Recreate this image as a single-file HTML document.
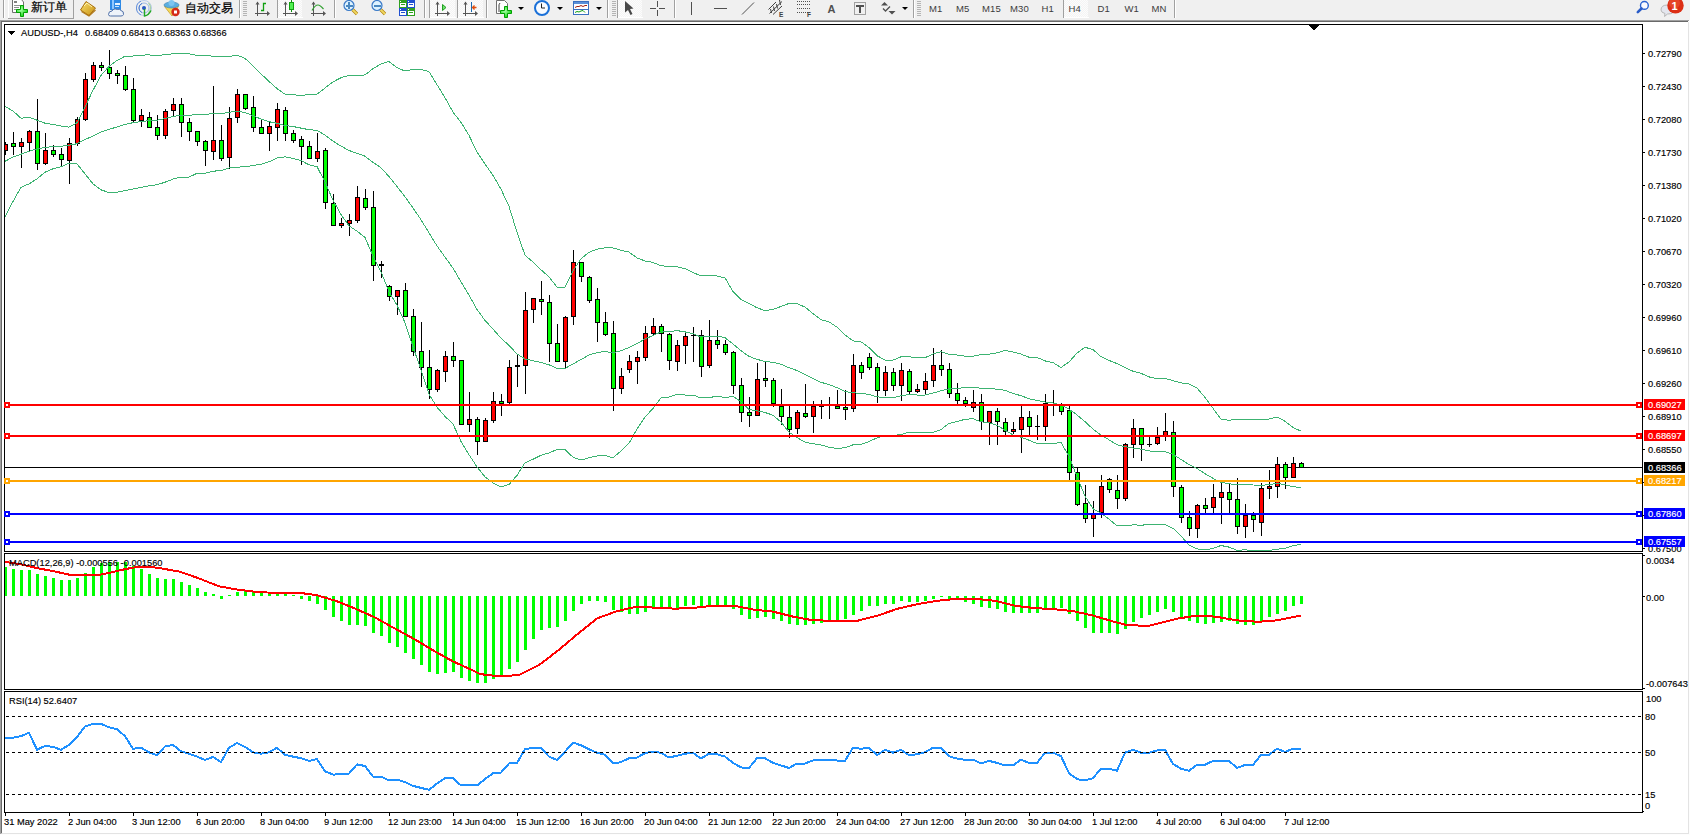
<!DOCTYPE html>
<html><head><meta charset="utf-8">
<style>
html,body{margin:0;padding:0;width:1690px;height:835px;overflow:hidden;background:#F0F0F0;}
#s{position:absolute;left:0;top:0;}
</style></head><body>
<svg id="s" width="1690" height="835" viewBox="0 0 1690 835" font-family="Liberation Sans, sans-serif">
<g>
<defs><pattern id="chk" width="2" height="2" patternUnits="userSpaceOnUse"><rect width="2" height="2" fill="#F4F4F4"/><rect width="1" height="1" fill="#FCFCFC"/><rect x="1" y="1" width="1" height="1" fill="#FCFCFC"/></pattern><linearGradient id="gold" x1="0" y1="0" x2="1" y2="1"><stop offset="0" stop-color="#F8E070"/><stop offset="1" stop-color="#C89010"/></linearGradient><radialGradient id="gplus" cx="0.4" cy="0.4" r="0.7"><stop offset="0" stop-color="#A8FFA8"/><stop offset="1" stop-color="#00D000"/></radialGradient></defs><rect x="0" y="0" width="1690" height="19" fill="#F0F0F0"/><rect x="3" y="0" width="1" height="18" fill="#A0A0A0"/><rect x="4" y="0" width="1" height="18" fill="#FFFFFF"/><rect x="8" y="0" width="1" height="18" fill="#FFFFFF"/><rect x="8" y="18" width="66" height="1" fill="#A0A0A0"/><rect x="73" y="0" width="1" height="19" fill="#A0A0A0"/><path d="M12.5 -1 V12.5 H23.5 V2 L21 -1" fill="#fff" stroke="#707070" stroke-width="1"/><rect x="14" y="1" width="3" height="2" fill="#808080"/><rect x="14" y="5" width="7" height="1" fill="#909090"/><rect x="14" y="7" width="5" height="1" fill="#909090"/><rect x="14" y="9" width="4" height="1" fill="#909090"/><path d="M20.5 5.5 H23.5 V9.5 H27.5 V12.5 H23.5 V16.5 H20.5 V12.5 H16.5 V9.5 H20.5 Z" fill="url(#gplus)" stroke="#00A000" stroke-width="1"/><text x="31" y="11" font-size="12" fill="#000" stroke="#000" stroke-width="0.2">新订单</text><path d="M80.5 10 L86 1.5 L95.5 8 L89 15.5 Z" fill="url(#gold)" stroke="#A87010" stroke-width="1"/><path d="M81.5 11.5 L89 16 L95.5 10" fill="none" stroke="#B07818" stroke-width="1.2"/><path d="M84 6 L87 3 L92 7" fill="none" stroke="#FFF4B0" stroke-width="1"/><rect x="110" y="0" width="11" height="10" fill="#2E8AE6"/><rect x="112" y="0" width="2" height="9" fill="#90C8FF"/><rect x="115" y="3" width="5" height="2" fill="#E8F4FF"/><rect x="115" y="6" width="4" height="1" fill="#CDE6FF"/><path d="M108.5 14.5 Q108.5 11 112 11 Q113.5 8 117.5 9.5 Q119.5 8.5 121 10.5 Q124 11 123.5 14.5 Q123 16 121 16 H110.5 Q108.5 16 108.5 14.5 Z" fill="#EEF3FA" stroke="#5070A8" stroke-width="1"/><circle cx="144" cy="8" r="7.5" fill="none" stroke="#B8CCEA" stroke-width="1"/><path d="M141 14.9 A7.5 7.5 0 0 1 141 1.1" fill="none" stroke="#6A94DC" stroke-width="1"/><circle cx="144" cy="8" r="5" fill="none" stroke="#9AB8E4" stroke-width="1"/><path d="M142 12.6 A5 5 0 0 1 142 3.4" fill="none" stroke="#4A7AD0" stroke-width="1"/><path d="M148.5 3 A7 7 0 0 1 148.5 13" fill="none" stroke="#A8D0A8" stroke-width="1.2"/><circle cx="144" cy="8" r="2" fill="#2858C0"/><path d="M144.5 9 V16 Q148.5 15.5 151 10.5" fill="none" stroke="#20A820" stroke-width="1.4"/><path d="M164.5 6.5 L178.5 6.5 L172 16 Z" fill="#F2D85A" stroke="#C8A030" stroke-width="0.8"/><ellipse cx="171.5" cy="5" rx="7.5" ry="3" fill="#5AAEE0" stroke="#3A80B0" stroke-width="0.6"/><ellipse cx="171.5" cy="3" rx="3" ry="3" fill="#7CC4F0"/><circle cx="175.5" cy="12" r="4.2" fill="#D42A18"/><rect x="174" y="10.5" width="3" height="3" fill="#FFFFFF"/><text x="185" y="12" font-size="12" fill="#000" stroke="#000" stroke-width="0.2">自动交易</text><rect x="239" y="0" width="1" height="18" fill="#A0A0A0"/><rect x="240" y="0" width="1" height="18" fill="#FFFFFF"/><rect x="243" y="1" width="4" height="1" fill="#B4B4B4"/><rect x="243" y="3" width="4" height="1" fill="#B4B4B4"/><rect x="243" y="5" width="4" height="1" fill="#B4B4B4"/><rect x="243" y="7" width="4" height="1" fill="#B4B4B4"/><rect x="243" y="9" width="4" height="1" fill="#B4B4B4"/><rect x="243" y="11" width="4" height="1" fill="#B4B4B4"/><rect x="243" y="13" width="4" height="1" fill="#B4B4B4"/><rect x="243" y="15" width="4" height="1" fill="#B4B4B4"/><rect x="257" y="2" width="1" height="14" fill="#555555"/><rect x="255" y="13" width="13" height="1" fill="#555555"/><path d="M255.5 4.5 L257.5 1.5 L259.5 4.5 Z M267 11 L270 13.5 L267 16 Z" fill="#555555"/><path d="M261 10.5 H263.5 V3.5 H266" stroke="#10A010" stroke-width="1.3" fill="none"/><rect x="277" y="0" width="1" height="18" fill="#A0A0A0"/><rect x="278" y="0" width="1" height="18" fill="#FFFFFF"/><rect x="278" y="0" width="24" height="18" fill="url(#chk)"/><rect x="278" y="17" width="25" height="1" fill="#FFFFFF"/><rect x="285" y="2" width="1" height="14" fill="#555555"/><rect x="283" y="13" width="13" height="1" fill="#555555"/><path d="M283.5 4.5 L285.5 1.5 L287.5 4.5 Z M295 11 L298 13.5 L295 16 Z" fill="#555555"/><rect x="291" y="0" width="1" height="12" fill="#109010"/><rect x="289.5" y="2.5" width="4" height="7" fill="#50F050" stroke="#10A010"/><rect x="313" y="2" width="1" height="14" fill="#555555"/><rect x="311" y="13" width="13" height="1" fill="#555555"/><path d="M311.5 4.5 L313.5 1.5 L315.5 4.5 Z M323 11 L326 13.5 L323 16 Z" fill="#555555"/><path d="M312 10.5 Q315 5 318 5 Q320 5 323.5 9" stroke="#30A030" stroke-width="1.2" fill="none"/><rect x="334" y="0" width="1" height="18" fill="#A0A0A0"/><rect x="335" y="0" width="1" height="18" fill="#FFFFFF"/><line x1="352.5" y1="9.5" x2="357" y2="14" stroke="#B08010" stroke-width="3.2"/><line x1="352.5" y1="9.5" x2="357" y2="14" stroke="#F0D860" stroke-width="1.8"/><circle cx="349" cy="5.5" r="5" fill="#DDF2FF" stroke="#3A7AC8" stroke-width="1.2"/><rect x="346" y="5" width="7" height="2" fill="#4A88C0"/><rect x="348" y="2" width="2" height="7" fill="#4A88C0"/><line x1="380.5" y1="9.5" x2="385" y2="14" stroke="#B08010" stroke-width="3.2"/><line x1="380.5" y1="9.5" x2="385" y2="14" stroke="#F0D860" stroke-width="1.8"/><circle cx="377" cy="5.5" r="5" fill="#DDF2FF" stroke="#3A7AC8" stroke-width="1.2"/><rect x="374" y="5" width="7" height="2" fill="#4A88C0"/><rect x="399" y="0" width="8" height="8" fill="#30A020"/><rect x="400" y="3" width="6" height="4" fill="#FFFFFF"/><rect x="401" y="4" width="4" height="1" fill="#30A020"/><rect x="400" y="1" width="1" height="1" fill="#FFFFFF"/><rect x="407" y="0" width="8" height="8" fill="#2050D0"/><rect x="408" y="3" width="6" height="4" fill="#FFFFFF"/><rect x="409" y="4" width="4" height="1" fill="#2050D0"/><rect x="408" y="1" width="1" height="1" fill="#FFFFFF"/><rect x="399" y="8" width="8" height="8" fill="#2050D0"/><rect x="400" y="11" width="6" height="4" fill="#FFFFFF"/><rect x="401" y="12" width="4" height="1" fill="#2050D0"/><rect x="400" y="9" width="1" height="1" fill="#FFFFFF"/><rect x="407" y="8" width="8" height="8" fill="#30A020"/><rect x="408" y="11" width="6" height="4" fill="#FFFFFF"/><rect x="409" y="12" width="4" height="1" fill="#30A020"/><rect x="408" y="9" width="1" height="1" fill="#FFFFFF"/><rect x="424" y="0" width="1" height="18" fill="#A0A0A0"/><rect x="425" y="0" width="1" height="18" fill="#FFFFFF"/><rect x="429" y="0" width="1" height="18" fill="#A0A0A0"/><rect x="430" y="0" width="1" height="18" fill="#FFFFFF"/><rect x="430" y="0" width="25" height="18" fill="url(#chk)"/><rect x="430" y="17" width="26" height="1" fill="#FFFFFF"/><rect x="437" y="2" width="1" height="14" fill="#555555"/><rect x="435" y="13" width="13" height="1" fill="#555555"/><path d="M435.5 4.5 L437.5 1.5 L439.5 4.5 Z M447 11 L450 13.5 L447 16 Z" fill="#555555"/><path d="M442.5 4.5 L446 7.5 L442.5 10.5 Z" fill="#70E070" stroke="#20A020"/><rect x="457" y="0" width="1" height="18" fill="#A0A0A0"/><rect x="458" y="0" width="1" height="18" fill="#FFFFFF"/><rect x="458" y="0" width="25" height="18" fill="url(#chk)"/><rect x="458" y="17" width="26" height="1" fill="#FFFFFF"/><rect x="465" y="2" width="1" height="14" fill="#555555"/><rect x="463" y="13" width="13" height="1" fill="#555555"/><path d="M463.5 4.5 L465.5 1.5 L467.5 4.5 Z M475 11 L478 13.5 L475 16 Z" fill="#555555"/><rect x="471" y="2" width="1" height="10" fill="#1A6AB0"/><path d="M476.5 7.5 H473 M474.5 5.5 L472.5 7.5 L474.5 9.5" stroke="#E05010" stroke-width="1.3" fill="none"/><rect x="486" y="0" width="1" height="18" fill="#A0A0A0"/><rect x="487" y="0" width="1" height="18" fill="#FFFFFF"/><path d="M496.5 0.5 H504.5 L507.5 3.5 V13.5 H496.5 Z" fill="#fff" stroke="#707070"/><path d="M500 3 Q498.5 4 499 8 L499 12" fill="none" stroke="#404040"/><path d="M504.5 6.5 H507.5 V10.5 H511.5 V13.5 H507.5 V17.5 H504.5 V13.5 H500.5 V10.5 H504.5 Z" fill="url(#gplus)" stroke="#00A000"/><path d="M518 7 H524 L521 10 Z" fill="#000"/><circle cx="542" cy="8" r="7" fill="#F8FBFF" stroke="#1A70D8" stroke-width="2"/><path d="M541.5 3.5 V8 H545" stroke="#222" stroke-width="1" fill="none"/><path d="M557 7 H563 L560 10 Z" fill="#000"/><rect x="573.5" y="1.5" width="15" height="13" fill="#FFFFFF" stroke="#3A70C0"/><rect x="574" y="2" width="14" height="2" fill="#5A90D8"/><rect x="574" y="9" width="14" height="1" fill="#3A70C0"/><path d="M575 7.5 L577 6.5 L579 6.5 L581 5.5 L583 6.5 L585 5.5 L587 5.5" stroke="#A02010" fill="none"/><path d="M575 12.5 L577 11.5 L579 12 L581 11 L583 10.5 L585 12.5" stroke="#10A010" fill="none"/><path d="M596 7 H602 L599 10 Z" fill="#000"/><rect x="607" y="0" width="1" height="18" fill="#A0A0A0"/><rect x="608" y="0" width="1" height="18" fill="#FFFFFF"/><rect x="612" y="1" width="4" height="1" fill="#B4B4B4"/><rect x="612" y="3" width="4" height="1" fill="#B4B4B4"/><rect x="612" y="5" width="4" height="1" fill="#B4B4B4"/><rect x="612" y="7" width="4" height="1" fill="#B4B4B4"/><rect x="612" y="9" width="4" height="1" fill="#B4B4B4"/><rect x="612" y="11" width="4" height="1" fill="#B4B4B4"/><rect x="612" y="13" width="4" height="1" fill="#B4B4B4"/><rect x="612" y="15" width="4" height="1" fill="#B4B4B4"/><rect x="617" y="0" width="1" height="18" fill="#A0A0A0"/><rect x="618" y="0" width="1" height="18" fill="#FFFFFF"/><rect x="618" y="0" width="24" height="18" fill="url(#chk)"/><rect x="618" y="17" width="25" height="1" fill="#FFFFFF"/><path d="M625 1 L625 12.5 L628 10 L630.5 15 L632.5 14 L630 9 L633.5 8.5 Z" fill="#484848"/><rect x="657" y="1" width="1" height="6" fill="#505050"/><rect x="657" y="10" width="1" height="6" fill="#505050"/><rect x="650" y="8" width="6" height="1" fill="#505050"/><rect x="659" y="8" width="6" height="1" fill="#505050"/><rect x="674" y="0" width="1" height="18" fill="#A0A0A0"/><rect x="675" y="0" width="1" height="18" fill="#FFFFFF"/><rect x="691" y="2" width="1" height="13" fill="#505050"/><rect x="714" y="8" width="13" height="1" fill="#505050"/><line x1="742" y1="14.5" x2="754" y2="2.5" stroke="#505050" stroke-width="1"/><path d="M768.5 9.5 L776 2 M769.5 13.5 L782 1.5 M773 14.5 L782 6 M770.5 9 L771.5 13 M773.5 6.5 L774.5 11 M776.5 4 L777.5 8.5 M779.5 0 L780.5 5" stroke="#404040" fill="none"/><text transform="translate(779 16.5) scale(1.0 1)" font-size="6.5" fill="#404040" letter-spacing="0" font-weight="bold">E</text><line x1="797" y1="1.5" x2="810" y2="1.5" stroke="#505050" stroke-dasharray="1 1"/><line x1="797" y1="4.5" x2="810" y2="4.5" stroke="#505050" stroke-dasharray="1 1"/><line x1="797" y1="8.5" x2="810" y2="8.5" stroke="#505050" stroke-dasharray="1 1"/><line x1="797" y1="12.5" x2="810" y2="12.5" stroke="#505050" stroke-dasharray="1 1"/><text transform="translate(807 16.5) scale(1.0 1)" font-size="6.5" fill="#404040" letter-spacing="0" font-weight="bold">F</text><text transform="translate(827.5 13) scale(1.0 1)" font-size="11" fill="#505050" letter-spacing="0" font-weight="bold">A</text><rect x="854.5" y="2.5" width="11" height="12" fill="none" stroke="#505050" stroke-dasharray="1 1"/><rect x="856" y="5" width="8" height="2" fill="#505050"/><rect x="859" y="5" width="2" height="8" fill="#505050"/><path d="M881 5.5 L884.5 2 L888 5.5 Z M888.5 11 L895.5 11 L892 14.5 Z" fill="#505050"/><path d="M883 8.5 L885.5 11 L890 6.5" stroke="#505050" stroke-width="1.3" fill="none"/><path d="M902 7 H908 L905 10 Z" fill="#000"/><rect x="913" y="0" width="1" height="18" fill="#A0A0A0"/><rect x="914" y="0" width="1" height="18" fill="#FFFFFF"/><rect x="917" y="1" width="4" height="1" fill="#B4B4B4"/><rect x="917" y="3" width="4" height="1" fill="#B4B4B4"/><rect x="917" y="5" width="4" height="1" fill="#B4B4B4"/><rect x="917" y="7" width="4" height="1" fill="#B4B4B4"/><rect x="917" y="9" width="4" height="1" fill="#B4B4B4"/><rect x="917" y="11" width="4" height="1" fill="#B4B4B4"/><rect x="917" y="13" width="4" height="1" fill="#B4B4B4"/><rect x="917" y="15" width="4" height="1" fill="#B4B4B4"/><text transform="translate(929 12) scale(1.0 1)" font-size="9.5" fill="#3C3C3C" letter-spacing="0.1" font-weight="normal">M1</text><text transform="translate(956 12) scale(1.0 1)" font-size="9.5" fill="#3C3C3C" letter-spacing="0.1" font-weight="normal">M5</text><text transform="translate(982 12) scale(1.0 1)" font-size="9.5" fill="#3C3C3C" letter-spacing="0.1" font-weight="normal">M15</text><text transform="translate(1010 12) scale(1.0 1)" font-size="9.5" fill="#3C3C3C" letter-spacing="0.1" font-weight="normal">M30</text><text transform="translate(1041.5 12) scale(1.0 1)" font-size="9.5" fill="#3C3C3C" letter-spacing="0.1" font-weight="normal">H1</text><rect x="1063" y="0" width="1" height="18" fill="#A0A0A0"/><rect x="1064" y="0" width="1" height="18" fill="#FFFFFF"/><rect x="1064" y="0" width="24" height="18" fill="url(#chk)"/><rect x="1064" y="17" width="25" height="1" fill="#FFFFFF"/><text transform="translate(1068.5 12) scale(1.0 1)" font-size="9.5" fill="#3C3C3C" letter-spacing="0.1" font-weight="normal">H4</text><text transform="translate(1097.5 12) scale(1.0 1)" font-size="9.5" fill="#3C3C3C" letter-spacing="0.1" font-weight="normal">D1</text><text transform="translate(1124.5 12) scale(1.0 1)" font-size="9.5" fill="#3C3C3C" letter-spacing="0.1" font-weight="normal">W1</text><text transform="translate(1151.5 12) scale(1.0 1)" font-size="9.5" fill="#3C3C3C" letter-spacing="0.1" font-weight="normal">MN</text><rect x="1174" y="0" width="1" height="18" fill="#A0A0A0"/><rect x="1175" y="0" width="1" height="18" fill="#FFFFFF"/><circle cx="1644.4" cy="5.4" r="3.9" fill="#FAFAFF" stroke="#2A62D0" stroke-width="1.4"/><line x1="1641.5" y1="8.5" x2="1637.8" y2="12.2" stroke="#2A5CC8" stroke-width="2.6" stroke-linecap="round"/><path d="M1661 10 Q1661 5 1667.5 5 Q1674 5 1674 10 Q1674 14 1667.5 14 L1664.5 16.5 L1665 13.5 Q1661 12.5 1661 10 Z" fill="#E4E6EE" stroke="#B8B8B8"/><circle cx="1675.5" cy="5.4" r="8.2" fill="#DC2E14"/><circle cx="1674.5" cy="3" r="5.5" fill="#F06040" opacity="0.45"/><text transform="translate(1671.5 10) scale(1.0 1)" font-size="11" fill="#FFFFFF" letter-spacing="0" font-weight="bold">1</text>
</g>
<g shape-rendering="crispEdges">
<rect x="0" y="19" width="1690" height="1" fill="#F0F0F0"/>
<rect x="0" y="20" width="1689" height="1" fill="#A0A0A0"/>
<rect x="0" y="21" width="1688" height="1" fill="#696969"/>
<rect x="0" y="20" width="1" height="814" fill="#A0A0A0"/>
<rect x="1" y="21" width="1" height="812" fill="#696969"/>
<rect x="2" y="22" width="1686" height="811" fill="#FFFFFF"/>
<rect x="1688" y="22" width="1" height="812" fill="#E3E3E3"/>
<rect x="2" y="833" width="1687" height="1" fill="#E3E3E3"/>
<rect x="0" y="834" width="1690" height="1" fill="#FDFDFD"/>
<rect x="1689" y="20" width="1" height="815" fill="#FDFDFD"/><rect x="1688" y="21" width="1" height="1" fill="#FDFDFD"/>
<rect x="1" y="833" width="1" height="1" fill="#C8C8C8"/>
</g>
<svg x="5" y="25" width="1637" height="526" viewBox="5 25 1637 526" overflow="hidden">
<g shape-rendering="crispEdges">
<rect x="5" y="467" width="1637" height="1" fill="#000"/>
<rect x="5" y="142" width="1" height="13" fill="#000"/><rect x="3" y="144" width="5" height="7" fill="#000"/><rect x="4" y="145" width="3" height="5" fill="#FF0000"/><rect x="13" y="132" width="1" height="23" fill="#000"/><rect x="11" y="143" width="5" height="4" fill="#000"/><rect x="12" y="144" width="3" height="2" fill="#00FF00"/><rect x="21" y="138" width="1" height="30" fill="#000"/><rect x="19" y="142" width="5" height="5" fill="#000"/><rect x="20" y="143" width="3" height="3" fill="#FF0000"/><rect x="29" y="130" width="1" height="22" fill="#000"/><rect x="27" y="131" width="5" height="12" fill="#000"/><rect x="28" y="132" width="3" height="10" fill="#FF0000"/><rect x="37" y="99" width="1" height="71" fill="#000"/><rect x="35" y="131" width="5" height="33" fill="#000"/><rect x="36" y="132" width="3" height="31" fill="#00FF00"/><rect x="45" y="133" width="1" height="32" fill="#000"/><rect x="43" y="150" width="5" height="14" fill="#000"/><rect x="44" y="151" width="3" height="12" fill="#FF0000"/><rect x="53" y="145" width="1" height="12" fill="#000"/><rect x="51" y="150" width="5" height="5" fill="#000"/><rect x="52" y="151" width="3" height="3" fill="#00FF00"/><rect x="61" y="148" width="1" height="18" fill="#000"/><rect x="59" y="154" width="5" height="6" fill="#000"/><rect x="60" y="155" width="3" height="4" fill="#00FF00"/><rect x="69" y="138" width="1" height="46" fill="#000"/><rect x="67" y="143" width="5" height="18" fill="#000"/><rect x="68" y="144" width="3" height="16" fill="#FF0000"/><rect x="77" y="117" width="1" height="29" fill="#000"/><rect x="75" y="119" width="5" height="25" fill="#000"/><rect x="76" y="120" width="3" height="23" fill="#FF0000"/><rect x="85" y="73" width="1" height="48" fill="#000"/><rect x="83" y="79" width="5" height="41" fill="#000"/><rect x="84" y="80" width="3" height="39" fill="#FF0000"/><rect x="93" y="62" width="1" height="20" fill="#000"/><rect x="91" y="65" width="5" height="15" fill="#000"/><rect x="92" y="66" width="3" height="13" fill="#FF0000"/><rect x="101" y="62" width="1" height="9" fill="#000"/><rect x="99" y="65" width="5" height="3" fill="#000"/><rect x="100" y="66" width="3" height="1" fill="#00FF00"/><rect x="109" y="50" width="1" height="29" fill="#000"/><rect x="107" y="67" width="5" height="7" fill="#000"/><rect x="108" y="68" width="3" height="5" fill="#00FF00"/><rect x="117" y="70" width="1" height="14" fill="#000"/><rect x="115" y="73" width="5" height="3" fill="#000"/><rect x="116" y="74" width="3" height="1" fill="#00FF00"/><rect x="125" y="66" width="1" height="25" fill="#000"/><rect x="123" y="75" width="5" height="15" fill="#000"/><rect x="124" y="76" width="3" height="13" fill="#00FF00"/><rect x="133" y="78" width="1" height="45" fill="#000"/><rect x="131" y="89" width="5" height="32" fill="#000"/><rect x="132" y="90" width="3" height="30" fill="#00FF00"/><rect x="141" y="109" width="1" height="18" fill="#000"/><rect x="139" y="115" width="5" height="6" fill="#000"/><rect x="140" y="116" width="3" height="4" fill="#FF0000"/><rect x="149" y="112" width="1" height="16" fill="#000"/><rect x="147" y="117" width="5" height="11" fill="#000"/><rect x="148" y="118" width="3" height="9" fill="#00FF00"/><rect x="157" y="115" width="1" height="25" fill="#000"/><rect x="155" y="127" width="5" height="9" fill="#000"/><rect x="156" y="128" width="3" height="7" fill="#00FF00"/><rect x="165" y="109" width="1" height="30" fill="#000"/><rect x="163" y="111" width="5" height="25" fill="#000"/><rect x="164" y="112" width="3" height="23" fill="#FF0000"/><rect x="173" y="98" width="1" height="18" fill="#000"/><rect x="171" y="104" width="5" height="7" fill="#000"/><rect x="172" y="105" width="3" height="5" fill="#FF0000"/><rect x="181" y="98" width="1" height="39" fill="#000"/><rect x="179" y="104" width="5" height="19" fill="#000"/><rect x="180" y="105" width="3" height="17" fill="#00FF00"/><rect x="189" y="118" width="1" height="23" fill="#000"/><rect x="187" y="122" width="5" height="10" fill="#000"/><rect x="188" y="123" width="3" height="8" fill="#00FF00"/><rect x="197" y="131" width="1" height="15" fill="#000"/><rect x="195" y="131" width="5" height="11" fill="#000"/><rect x="196" y="132" width="3" height="9" fill="#00FF00"/><rect x="205" y="140" width="1" height="26" fill="#000"/><rect x="203" y="141" width="5" height="10" fill="#000"/><rect x="204" y="142" width="3" height="8" fill="#00FF00"/><rect x="213" y="86" width="1" height="74" fill="#000"/><rect x="211" y="140" width="5" height="12" fill="#000"/><rect x="212" y="141" width="3" height="10" fill="#FF0000"/><rect x="221" y="125" width="1" height="36" fill="#000"/><rect x="219" y="140" width="5" height="19" fill="#000"/><rect x="220" y="141" width="3" height="17" fill="#00FF00"/><rect x="229" y="107" width="1" height="62" fill="#000"/><rect x="227" y="118" width="5" height="40" fill="#000"/><rect x="228" y="119" width="3" height="38" fill="#FF0000"/><rect x="237" y="89" width="1" height="34" fill="#000"/><rect x="235" y="94" width="5" height="24" fill="#000"/><rect x="236" y="95" width="3" height="22" fill="#FF0000"/><rect x="245" y="94" width="1" height="16" fill="#000"/><rect x="243" y="94" width="5" height="15" fill="#000"/><rect x="244" y="95" width="3" height="13" fill="#00FF00"/><rect x="253" y="96" width="1" height="36" fill="#000"/><rect x="251" y="107" width="5" height="21" fill="#000"/><rect x="252" y="108" width="3" height="19" fill="#00FF00"/><rect x="261" y="120" width="1" height="14" fill="#000"/><rect x="259" y="127" width="5" height="7" fill="#000"/><rect x="260" y="128" width="3" height="5" fill="#00FF00"/><rect x="269" y="122" width="1" height="29" fill="#000"/><rect x="267" y="126" width="5" height="8" fill="#000"/><rect x="268" y="127" width="3" height="6" fill="#FF0000"/><rect x="277" y="103" width="1" height="38" fill="#000"/><rect x="275" y="109" width="5" height="19" fill="#000"/><rect x="276" y="110" width="3" height="17" fill="#FF0000"/><rect x="285" y="107" width="1" height="34" fill="#000"/><rect x="283" y="110" width="5" height="24" fill="#000"/><rect x="284" y="111" width="3" height="22" fill="#00FF00"/><rect x="293" y="130" width="1" height="13" fill="#000"/><rect x="291" y="133" width="5" height="8" fill="#000"/><rect x="292" y="134" width="3" height="6" fill="#00FF00"/><rect x="301" y="136" width="1" height="29" fill="#000"/><rect x="299" y="139" width="5" height="8" fill="#000"/><rect x="300" y="140" width="3" height="6" fill="#00FF00"/><rect x="309" y="141" width="1" height="18" fill="#000"/><rect x="307" y="146" width="5" height="13" fill="#000"/><rect x="308" y="147" width="3" height="11" fill="#00FF00"/><rect x="317" y="133" width="1" height="29" fill="#000"/><rect x="315" y="151" width="5" height="8" fill="#000"/><rect x="316" y="152" width="3" height="6" fill="#FF0000"/><rect x="325" y="148" width="1" height="61" fill="#000"/><rect x="323" y="150" width="5" height="53" fill="#000"/><rect x="324" y="151" width="3" height="51" fill="#00FF00"/><rect x="333" y="194" width="1" height="32" fill="#000"/><rect x="331" y="203" width="5" height="23" fill="#000"/><rect x="332" y="204" width="3" height="21" fill="#00FF00"/><rect x="341" y="218" width="1" height="10" fill="#000"/><rect x="339" y="223" width="5" height="3" fill="#000"/><rect x="340" y="224" width="3" height="1" fill="#FF0000"/><rect x="349" y="214" width="1" height="22" fill="#000"/><rect x="347" y="220" width="5" height="4" fill="#000"/><rect x="348" y="221" width="3" height="2" fill="#FF0000"/><rect x="357" y="186" width="1" height="37" fill="#000"/><rect x="355" y="197" width="5" height="24" fill="#000"/><rect x="356" y="198" width="3" height="22" fill="#FF0000"/><rect x="365" y="189" width="1" height="21" fill="#000"/><rect x="363" y="198" width="5" height="10" fill="#000"/><rect x="364" y="199" width="3" height="8" fill="#00FF00"/><rect x="373" y="191" width="1" height="90" fill="#000"/><rect x="371" y="207" width="5" height="59" fill="#000"/><rect x="372" y="208" width="3" height="57" fill="#00FF00"/><rect x="381" y="261" width="1" height="17" fill="#000"/><rect x="379" y="264" width="5" height="2" fill="#000"/><rect x="389" y="285" width="1" height="16" fill="#000"/><rect x="387" y="286" width="5" height="11" fill="#000"/><rect x="388" y="287" width="3" height="9" fill="#00FF00"/><rect x="397" y="290" width="1" height="25" fill="#000"/><rect x="395" y="290" width="5" height="7" fill="#000"/><rect x="396" y="291" width="3" height="5" fill="#FF0000"/><rect x="405" y="283" width="1" height="34" fill="#000"/><rect x="403" y="290" width="5" height="27" fill="#000"/><rect x="404" y="291" width="3" height="25" fill="#00FF00"/><rect x="413" y="309" width="1" height="47" fill="#000"/><rect x="411" y="316" width="5" height="36" fill="#000"/><rect x="412" y="317" width="3" height="34" fill="#00FF00"/><rect x="421" y="322" width="1" height="65" fill="#000"/><rect x="419" y="351" width="5" height="17" fill="#000"/><rect x="420" y="352" width="3" height="15" fill="#00FF00"/><rect x="429" y="350" width="1" height="49" fill="#000"/><rect x="427" y="367" width="5" height="23" fill="#000"/><rect x="428" y="368" width="3" height="21" fill="#00FF00"/><rect x="437" y="369" width="1" height="23" fill="#000"/><rect x="435" y="370" width="5" height="20" fill="#000"/><rect x="436" y="371" width="3" height="18" fill="#FF0000"/><rect x="445" y="351" width="1" height="31" fill="#000"/><rect x="443" y="356" width="5" height="16" fill="#000"/><rect x="444" y="357" width="3" height="14" fill="#FF0000"/><rect x="453" y="342" width="1" height="25" fill="#000"/><rect x="451" y="356" width="5" height="5" fill="#000"/><rect x="452" y="357" width="3" height="3" fill="#00FF00"/><rect x="461" y="360" width="1" height="65" fill="#000"/><rect x="459" y="360" width="5" height="65" fill="#000"/><rect x="460" y="361" width="3" height="63" fill="#00FF00"/><rect x="469" y="392" width="1" height="40" fill="#000"/><rect x="467" y="419" width="5" height="6" fill="#000"/><rect x="468" y="420" width="3" height="4" fill="#FF0000"/><rect x="477" y="417" width="1" height="38" fill="#000"/><rect x="475" y="419" width="5" height="23" fill="#000"/><rect x="476" y="420" width="3" height="21" fill="#00FF00"/><rect x="485" y="418" width="1" height="24" fill="#000"/><rect x="483" y="420" width="5" height="22" fill="#000"/><rect x="484" y="421" width="3" height="20" fill="#FF0000"/><rect x="493" y="392" width="1" height="31" fill="#000"/><rect x="491" y="401" width="5" height="20" fill="#000"/><rect x="492" y="402" width="3" height="18" fill="#FF0000"/><rect x="501" y="394" width="1" height="22" fill="#000"/><rect x="499" y="401" width="5" height="3" fill="#000"/><rect x="500" y="402" width="3" height="1" fill="#00FF00"/><rect x="509" y="360" width="1" height="44" fill="#000"/><rect x="507" y="367" width="5" height="36" fill="#000"/><rect x="508" y="368" width="3" height="34" fill="#FF0000"/><rect x="517" y="354" width="1" height="33" fill="#000"/><rect x="515" y="365" width="5" height="2" fill="#000"/><rect x="525" y="292" width="1" height="102" fill="#000"/><rect x="523" y="310" width="5" height="56" fill="#000"/><rect x="524" y="311" width="3" height="54" fill="#FF0000"/><rect x="533" y="298" width="1" height="25" fill="#000"/><rect x="531" y="298" width="5" height="12" fill="#000"/><rect x="532" y="299" width="3" height="10" fill="#FF0000"/><rect x="541" y="281" width="1" height="34" fill="#000"/><rect x="539" y="299" width="5" height="3" fill="#000"/><rect x="540" y="300" width="3" height="1" fill="#00FF00"/><rect x="549" y="295" width="1" height="67" fill="#000"/><rect x="547" y="302" width="5" height="42" fill="#000"/><rect x="548" y="303" width="3" height="40" fill="#00FF00"/><rect x="557" y="324" width="1" height="38" fill="#000"/><rect x="555" y="343" width="5" height="19" fill="#000"/><rect x="556" y="344" width="3" height="17" fill="#00FF00"/><rect x="565" y="316" width="1" height="53" fill="#000"/><rect x="563" y="317" width="5" height="45" fill="#000"/><rect x="564" y="318" width="3" height="43" fill="#FF0000"/><rect x="573" y="250" width="1" height="75" fill="#000"/><rect x="571" y="262" width="5" height="55" fill="#000"/><rect x="572" y="263" width="3" height="53" fill="#FF0000"/><rect x="581" y="262" width="1" height="20" fill="#000"/><rect x="579" y="262" width="5" height="15" fill="#000"/><rect x="580" y="263" width="3" height="13" fill="#00FF00"/><rect x="589" y="276" width="1" height="27" fill="#000"/><rect x="587" y="277" width="5" height="24" fill="#000"/><rect x="588" y="278" width="3" height="22" fill="#00FF00"/><rect x="597" y="288" width="1" height="54" fill="#000"/><rect x="595" y="299" width="5" height="24" fill="#000"/><rect x="596" y="300" width="3" height="22" fill="#00FF00"/><rect x="605" y="312" width="1" height="24" fill="#000"/><rect x="603" y="322" width="5" height="13" fill="#000"/><rect x="604" y="323" width="3" height="11" fill="#00FF00"/><rect x="613" y="321" width="1" height="90" fill="#000"/><rect x="611" y="333" width="5" height="56" fill="#000"/><rect x="612" y="334" width="3" height="54" fill="#00FF00"/><rect x="621" y="368" width="1" height="26" fill="#000"/><rect x="619" y="376" width="5" height="13" fill="#000"/><rect x="620" y="377" width="3" height="11" fill="#FF0000"/><rect x="629" y="355" width="1" height="18" fill="#000"/><rect x="627" y="361" width="5" height="9" fill="#000"/><rect x="628" y="362" width="3" height="7" fill="#FF0000"/><rect x="637" y="351" width="1" height="33" fill="#000"/><rect x="635" y="357" width="5" height="5" fill="#000"/><rect x="636" y="358" width="3" height="3" fill="#FF0000"/><rect x="645" y="326" width="1" height="35" fill="#000"/><rect x="643" y="333" width="5" height="25" fill="#000"/><rect x="644" y="334" width="3" height="23" fill="#FF0000"/><rect x="653" y="318" width="1" height="17" fill="#000"/><rect x="651" y="326" width="5" height="8" fill="#000"/><rect x="652" y="327" width="3" height="6" fill="#FF0000"/><rect x="661" y="324" width="1" height="28" fill="#000"/><rect x="659" y="326" width="5" height="8" fill="#000"/><rect x="660" y="327" width="3" height="6" fill="#00FF00"/><rect x="669" y="333" width="1" height="37" fill="#000"/><rect x="667" y="334" width="5" height="27" fill="#000"/><rect x="668" y="335" width="3" height="25" fill="#00FF00"/><rect x="677" y="340" width="1" height="31" fill="#000"/><rect x="675" y="345" width="5" height="17" fill="#000"/><rect x="676" y="346" width="3" height="15" fill="#FF0000"/><rect x="685" y="331" width="1" height="33" fill="#000"/><rect x="683" y="336" width="5" height="10" fill="#000"/><rect x="684" y="337" width="3" height="8" fill="#FF0000"/><rect x="693" y="327" width="1" height="35" fill="#000"/><rect x="691" y="335" width="5" height="1" fill="#000"/><rect x="701" y="330" width="1" height="47" fill="#000"/><rect x="699" y="335" width="5" height="32" fill="#000"/><rect x="700" y="336" width="3" height="30" fill="#00FF00"/><rect x="709" y="320" width="1" height="48" fill="#000"/><rect x="707" y="340" width="5" height="26" fill="#000"/><rect x="708" y="341" width="3" height="24" fill="#FF0000"/><rect x="717" y="330" width="1" height="19" fill="#000"/><rect x="715" y="340" width="5" height="5" fill="#000"/><rect x="716" y="341" width="3" height="3" fill="#00FF00"/><rect x="725" y="340" width="1" height="15" fill="#000"/><rect x="723" y="344" width="5" height="9" fill="#000"/><rect x="724" y="345" width="3" height="7" fill="#00FF00"/><rect x="733" y="351" width="1" height="43" fill="#000"/><rect x="731" y="352" width="5" height="34" fill="#000"/><rect x="732" y="353" width="3" height="32" fill="#00FF00"/><rect x="741" y="378" width="1" height="44" fill="#000"/><rect x="739" y="385" width="5" height="28" fill="#000"/><rect x="740" y="386" width="3" height="26" fill="#00FF00"/><rect x="749" y="397" width="1" height="30" fill="#000"/><rect x="747" y="412" width="5" height="4" fill="#000"/><rect x="748" y="413" width="3" height="2" fill="#00FF00"/><rect x="757" y="363" width="1" height="53" fill="#000"/><rect x="755" y="379" width="5" height="37" fill="#000"/><rect x="756" y="380" width="3" height="35" fill="#FF0000"/><rect x="765" y="362" width="1" height="25" fill="#000"/><rect x="763" y="378" width="5" height="3" fill="#000"/><rect x="764" y="379" width="3" height="1" fill="#00FF00"/><rect x="773" y="378" width="1" height="29" fill="#000"/><rect x="771" y="380" width="5" height="24" fill="#000"/><rect x="772" y="381" width="3" height="22" fill="#00FF00"/><rect x="781" y="389" width="1" height="36" fill="#000"/><rect x="779" y="406" width="5" height="11" fill="#000"/><rect x="780" y="407" width="3" height="9" fill="#00FF00"/><rect x="789" y="406" width="1" height="32" fill="#000"/><rect x="787" y="417" width="5" height="13" fill="#000"/><rect x="788" y="418" width="3" height="11" fill="#00FF00"/><rect x="797" y="410" width="1" height="24" fill="#000"/><rect x="795" y="412" width="5" height="17" fill="#000"/><rect x="796" y="413" width="3" height="15" fill="#FF0000"/><rect x="805" y="384" width="1" height="34" fill="#000"/><rect x="803" y="413" width="5" height="4" fill="#000"/><rect x="804" y="414" width="3" height="2" fill="#00FF00"/><rect x="813" y="401" width="1" height="32" fill="#000"/><rect x="811" y="406" width="5" height="11" fill="#000"/><rect x="812" y="407" width="3" height="9" fill="#FF0000"/><rect x="821" y="400" width="1" height="19" fill="#000"/><rect x="819" y="406" width="5" height="1" fill="#000"/><rect x="829" y="397" width="1" height="22" fill="#000"/><rect x="827" y="405" width="5" height="1" fill="#000"/><rect x="837" y="390" width="1" height="19" fill="#000"/><rect x="835" y="406" width="5" height="3" fill="#000"/><rect x="836" y="407" width="3" height="1" fill="#00FF00"/><rect x="845" y="390" width="1" height="30" fill="#000"/><rect x="843" y="407" width="5" height="3" fill="#000"/><rect x="844" y="408" width="3" height="1" fill="#00FF00"/><rect x="853" y="354" width="1" height="58" fill="#000"/><rect x="851" y="365" width="5" height="44" fill="#000"/><rect x="852" y="366" width="3" height="42" fill="#FF0000"/><rect x="861" y="362" width="1" height="17" fill="#000"/><rect x="859" y="365" width="5" height="8" fill="#000"/><rect x="860" y="366" width="3" height="6" fill="#00FF00"/><rect x="869" y="353" width="1" height="17" fill="#000"/><rect x="867" y="357" width="5" height="11" fill="#000"/><rect x="868" y="358" width="3" height="9" fill="#00FF00"/><rect x="877" y="363" width="1" height="40" fill="#000"/><rect x="875" y="367" width="5" height="24" fill="#000"/><rect x="876" y="368" width="3" height="22" fill="#00FF00"/><rect x="885" y="366" width="1" height="30" fill="#000"/><rect x="883" y="372" width="5" height="19" fill="#000"/><rect x="884" y="373" width="3" height="17" fill="#FF0000"/><rect x="893" y="368" width="1" height="23" fill="#000"/><rect x="891" y="372" width="5" height="14" fill="#000"/><rect x="892" y="373" width="3" height="12" fill="#00FF00"/><rect x="901" y="363" width="1" height="38" fill="#000"/><rect x="899" y="370" width="5" height="16" fill="#000"/><rect x="900" y="371" width="3" height="14" fill="#FF0000"/><rect x="909" y="369" width="1" height="25" fill="#000"/><rect x="907" y="371" width="5" height="21" fill="#000"/><rect x="908" y="372" width="3" height="19" fill="#00FF00"/><rect x="917" y="384" width="1" height="9" fill="#000"/><rect x="915" y="389" width="5" height="3" fill="#000"/><rect x="916" y="390" width="3" height="1" fill="#FF0000"/><rect x="925" y="373" width="1" height="21" fill="#000"/><rect x="923" y="381" width="5" height="9" fill="#000"/><rect x="924" y="382" width="3" height="7" fill="#FF0000"/><rect x="933" y="348" width="1" height="39" fill="#000"/><rect x="931" y="365" width="5" height="16" fill="#000"/><rect x="932" y="366" width="3" height="14" fill="#FF0000"/><rect x="941" y="350" width="1" height="26" fill="#000"/><rect x="939" y="365" width="5" height="5" fill="#000"/><rect x="940" y="366" width="3" height="3" fill="#00FF00"/><rect x="949" y="363" width="1" height="35" fill="#000"/><rect x="947" y="369" width="5" height="25" fill="#000"/><rect x="948" y="370" width="3" height="23" fill="#00FF00"/><rect x="957" y="383" width="1" height="21" fill="#000"/><rect x="955" y="393" width="5" height="8" fill="#000"/><rect x="956" y="394" width="3" height="6" fill="#00FF00"/><rect x="965" y="397" width="1" height="10" fill="#000"/><rect x="963" y="400" width="5" height="4" fill="#000"/><rect x="964" y="401" width="3" height="2" fill="#00FF00"/><rect x="973" y="390" width="1" height="22" fill="#000"/><rect x="971" y="402" width="5" height="6" fill="#000"/><rect x="972" y="403" width="3" height="4" fill="#FF0000"/><rect x="981" y="394" width="1" height="36" fill="#000"/><rect x="979" y="402" width="5" height="20" fill="#000"/><rect x="980" y="403" width="3" height="18" fill="#00FF00"/><rect x="989" y="411" width="1" height="34" fill="#000"/><rect x="987" y="411" width="5" height="12" fill="#000"/><rect x="988" y="412" width="3" height="10" fill="#FF0000"/><rect x="997" y="408" width="1" height="37" fill="#000"/><rect x="995" y="411" width="5" height="11" fill="#000"/><rect x="996" y="412" width="3" height="9" fill="#00FF00"/><rect x="1005" y="418" width="1" height="17" fill="#000"/><rect x="1003" y="422" width="5" height="10" fill="#000"/><rect x="1004" y="423" width="3" height="8" fill="#00FF00"/><rect x="1013" y="422" width="1" height="12" fill="#000"/><rect x="1011" y="429" width="5" height="3" fill="#000"/><rect x="1012" y="430" width="3" height="1" fill="#FF0000"/><rect x="1021" y="406" width="1" height="47" fill="#000"/><rect x="1019" y="417" width="5" height="13" fill="#000"/><rect x="1020" y="418" width="3" height="11" fill="#FF0000"/><rect x="1029" y="411" width="1" height="24" fill="#000"/><rect x="1027" y="417" width="5" height="10" fill="#000"/><rect x="1028" y="418" width="3" height="8" fill="#00FF00"/><rect x="1037" y="415" width="1" height="25" fill="#000"/><rect x="1035" y="426" width="5" height="1" fill="#000"/><rect x="1045" y="394" width="1" height="47" fill="#000"/><rect x="1043" y="403" width="5" height="24" fill="#000"/><rect x="1044" y="404" width="3" height="22" fill="#FF0000"/><rect x="1053" y="390" width="1" height="26" fill="#000"/><rect x="1051" y="404" width="5" height="2" fill="#000"/><rect x="1061" y="403" width="1" height="12" fill="#000"/><rect x="1059" y="405" width="5" height="7" fill="#000"/><rect x="1060" y="406" width="3" height="5" fill="#00FF00"/><rect x="1069" y="406" width="1" height="74" fill="#000"/><rect x="1067" y="410" width="5" height="63" fill="#000"/><rect x="1068" y="411" width="3" height="61" fill="#00FF00"/><rect x="1077" y="468" width="1" height="38" fill="#000"/><rect x="1075" y="472" width="5" height="33" fill="#000"/><rect x="1076" y="473" width="3" height="31" fill="#00FF00"/><rect x="1085" y="485" width="1" height="38" fill="#000"/><rect x="1083" y="503" width="5" height="16" fill="#000"/><rect x="1084" y="504" width="3" height="14" fill="#00FF00"/><rect x="1093" y="501" width="1" height="36" fill="#000"/><rect x="1091" y="513" width="5" height="6" fill="#000"/><rect x="1092" y="514" width="3" height="4" fill="#FF0000"/><rect x="1101" y="475" width="1" height="43" fill="#000"/><rect x="1099" y="486" width="5" height="27" fill="#000"/><rect x="1100" y="487" width="3" height="25" fill="#FF0000"/><rect x="1109" y="478" width="1" height="15" fill="#000"/><rect x="1107" y="479" width="5" height="11" fill="#000"/><rect x="1108" y="480" width="3" height="9" fill="#00FF00"/><rect x="1117" y="475" width="1" height="34" fill="#000"/><rect x="1115" y="490" width="5" height="9" fill="#000"/><rect x="1116" y="491" width="3" height="7" fill="#00FF00"/><rect x="1125" y="443" width="1" height="58" fill="#000"/><rect x="1123" y="444" width="5" height="55" fill="#000"/><rect x="1124" y="445" width="3" height="53" fill="#FF0000"/><rect x="1133" y="419" width="1" height="39" fill="#000"/><rect x="1131" y="428" width="5" height="17" fill="#000"/><rect x="1132" y="429" width="3" height="15" fill="#FF0000"/><rect x="1141" y="428" width="1" height="33" fill="#000"/><rect x="1139" y="428" width="5" height="17" fill="#000"/><rect x="1140" y="429" width="3" height="15" fill="#00FF00"/><rect x="1149" y="437" width="1" height="10" fill="#000"/><rect x="1147" y="444" width="5" height="1" fill="#000"/><rect x="1157" y="427" width="1" height="18" fill="#000"/><rect x="1155" y="437" width="5" height="7" fill="#000"/><rect x="1156" y="438" width="3" height="5" fill="#FF0000"/><rect x="1165" y="413" width="1" height="28" fill="#000"/><rect x="1163" y="431" width="5" height="5" fill="#000"/><rect x="1164" y="432" width="3" height="3" fill="#FF0000"/><rect x="1173" y="421" width="1" height="76" fill="#000"/><rect x="1171" y="432" width="5" height="55" fill="#000"/><rect x="1172" y="433" width="3" height="53" fill="#00FF00"/><rect x="1181" y="485" width="1" height="38" fill="#000"/><rect x="1179" y="487" width="5" height="31" fill="#000"/><rect x="1180" y="488" width="3" height="29" fill="#00FF00"/><rect x="1189" y="511" width="1" height="25" fill="#000"/><rect x="1187" y="517" width="5" height="12" fill="#000"/><rect x="1188" y="518" width="3" height="10" fill="#00FF00"/><rect x="1197" y="504" width="1" height="34" fill="#000"/><rect x="1195" y="505" width="5" height="24" fill="#000"/><rect x="1196" y="506" width="3" height="22" fill="#FF0000"/><rect x="1205" y="498" width="1" height="15" fill="#000"/><rect x="1203" y="505" width="5" height="4" fill="#000"/><rect x="1204" y="506" width="3" height="2" fill="#00FF00"/><rect x="1213" y="484" width="1" height="29" fill="#000"/><rect x="1211" y="497" width="5" height="11" fill="#000"/><rect x="1212" y="498" width="3" height="9" fill="#FF0000"/><rect x="1221" y="482" width="1" height="42" fill="#000"/><rect x="1219" y="492" width="5" height="6" fill="#000"/><rect x="1220" y="493" width="3" height="4" fill="#FF0000"/><rect x="1229" y="483" width="1" height="30" fill="#000"/><rect x="1227" y="492" width="5" height="8" fill="#000"/><rect x="1228" y="493" width="3" height="6" fill="#00FF00"/><rect x="1237" y="478" width="1" height="56" fill="#000"/><rect x="1235" y="499" width="5" height="28" fill="#000"/><rect x="1236" y="500" width="3" height="26" fill="#00FF00"/><rect x="1245" y="504" width="1" height="34" fill="#000"/><rect x="1243" y="515" width="5" height="12" fill="#000"/><rect x="1244" y="516" width="3" height="10" fill="#FF0000"/><rect x="1253" y="512" width="1" height="20" fill="#000"/><rect x="1251" y="515" width="5" height="5" fill="#000"/><rect x="1252" y="516" width="3" height="3" fill="#00FF00"/><rect x="1261" y="483" width="1" height="53" fill="#000"/><rect x="1259" y="488" width="5" height="35" fill="#000"/><rect x="1260" y="489" width="3" height="33" fill="#FF0000"/><rect x="1269" y="470" width="1" height="29" fill="#000"/><rect x="1267" y="486" width="5" height="3" fill="#000"/><rect x="1268" y="487" width="3" height="1" fill="#FF0000"/><rect x="1277" y="457" width="1" height="41" fill="#000"/><rect x="1275" y="464" width="5" height="23" fill="#000"/><rect x="1276" y="465" width="3" height="21" fill="#FF0000"/><rect x="1285" y="462" width="1" height="27" fill="#000"/><rect x="1283" y="464" width="5" height="14" fill="#000"/><rect x="1284" y="465" width="3" height="12" fill="#00FF00"/><rect x="1293" y="457" width="1" height="21" fill="#000"/><rect x="1291" y="463" width="5" height="15" fill="#000"/><rect x="1292" y="464" width="3" height="13" fill="#FF0000"/><rect x="1301" y="462" width="1" height="6" fill="#000"/><rect x="1299" y="463" width="5" height="5" fill="#000"/><rect x="1300" y="464" width="3" height="3" fill="#00FF00"/>
<polyline points="5.0,106.3 13.0,111.0 21.0,118.2 29.0,117.2 37.0,120.2 45.0,123.2 53.0,124.4 61.0,126.1 69.0,127.2 77.0,122.7 85.0,106.8 93.0,90.3 101.0,75.4 109.0,66.3 117.0,60.4 125.0,56.3 133.0,56.0 141.0,55.1 149.0,54.9 157.0,55.5 165.0,54.7 173.0,53.7 181.0,53.7 189.0,53.7 197.0,55.4 205.0,55.3 213.0,56.3 221.0,56.4 229.0,56.7 237.0,55.0 245.0,58.4 253.0,65.8 261.0,73.8 269.0,81.5 277.0,88.6 285.0,94.2 293.0,94.7 301.0,95.6 309.0,94.5 317.0,94.2 325.0,88.0 333.0,81.9 341.0,77.7 349.0,75.3 357.0,75.5 365.0,74.9 373.0,68.7 381.0,63.9 389.0,61.5 397.0,67.7 405.0,71.0 413.0,69.5 421.0,69.3 429.0,71.7 437.0,84.7 445.0,97.7 453.0,112.1 461.0,122.4 469.0,135.3 477.0,152.1 485.0,163.9 493.0,175.4 501.0,189.2 509.0,206.3 517.0,232.4 525.0,255.2 533.0,262.0 541.0,269.8 549.0,276.8 557.0,287.2 565.0,287.3 573.0,270.7 581.0,258.8 589.0,252.3 597.0,249.2 605.0,247.8 613.0,248.0 621.0,250.2 629.0,252.1 637.0,257.9 645.0,261.0 653.0,262.4 661.0,265.9 669.0,266.2 677.0,266.7 685.0,268.7 693.0,272.4 701.0,276.0 709.0,275.9 717.0,275.9 725.0,277.9 733.0,291.5 741.0,299.6 749.0,303.4 757.0,307.8 765.0,310.6 773.0,309.4 781.0,306.5 789.0,303.4 797.0,303.5 805.0,307.1 813.0,313.6 821.0,319.6 829.0,321.9 837.0,327.1 845.0,335.0 853.0,340.9 861.0,341.8 869.0,347.5 877.0,355.7 885.0,360.1 893.0,360.1 901.0,356.8 909.0,356.7 917.0,357.7 925.0,357.8 933.0,353.9 941.0,351.8 949.0,354.3 957.0,355.0 965.0,356.1 973.0,356.3 981.0,354.6 989.0,354.2 997.0,352.9 1005.0,350.4 1013.0,351.9 1021.0,354.1 1029.0,357.2 1037.0,357.4 1045.0,360.9 1053.0,362.6 1061.0,367.5 1069.0,362.0 1077.0,353.1 1085.0,347.3 1093.0,349.6 1101.0,356.6 1109.0,360.4 1117.0,363.6 1125.0,367.7 1133.0,371.2 1141.0,373.3 1149.0,376.9 1157.0,378.6 1165.0,378.5 1173.0,380.6 1181.0,382.9 1189.0,384.0 1197.0,388.0 1205.0,397.5 1213.0,408.3 1221.0,419.2 1229.0,420.3 1237.0,419.3 1245.0,419.5 1253.0,419.2 1261.0,419.3 1269.0,419.1 1277.0,417.1 1285.0,421.2 1293.0,427.5 1301.0,431.1" fill="none" stroke="#3CB371" stroke-width="1" stroke-linejoin="round"/><polyline points="5.0,161.3 13.0,157.1 21.0,154.2 29.0,151.2 37.0,149.0 45.0,147.4 53.0,146.7 61.0,146.2 69.0,145.3 77.0,143.7 85.0,139.5 93.0,136.1 101.0,131.9 109.0,129.4 117.0,126.9 125.0,124.4 133.0,122.7 141.0,121.5 149.0,120.7 157.0,120.2 165.0,118.5 173.0,116.4 181.0,115.4 189.0,115.4 197.0,114.3 205.0,114.4 213.0,113.7 221.0,113.6 229.0,112.3 237.0,111.1 245.0,112.6 253.0,115.7 261.0,119.0 269.0,121.7 277.0,123.3 285.0,125.5 293.0,126.5 301.0,128.1 309.0,129.7 317.0,130.4 325.0,135.0 333.0,141.1 341.0,146.1 349.0,150.5 357.0,153.3 365.0,156.2 373.0,162.4 381.0,167.7 389.0,176.6 397.0,186.5 405.0,196.8 413.0,208.0 421.0,219.7 429.0,232.9 437.0,245.9 445.0,257.1 453.0,268.1 461.0,282.0 469.0,295.0 477.0,309.5 485.0,320.4 493.0,329.1 501.0,338.1 509.0,345.4 517.0,353.9 525.0,359.0 533.0,360.7 541.0,362.5 549.0,364.8 557.0,368.4 565.0,368.4 573.0,364.0 581.0,359.5 589.0,355.0 597.0,352.6 605.0,351.5 613.0,353.0 621.0,350.6 629.0,347.7 637.0,343.5 645.0,339.1 653.0,335.4 661.0,331.9 669.0,331.6 677.0,330.6 685.0,331.9 693.0,333.7 701.0,337.0 709.0,336.8 717.0,336.0 725.0,337.7 733.0,343.9 741.0,350.7 749.0,356.4 757.0,359.3 765.0,361.5 773.0,362.3 781.0,364.3 789.0,367.7 797.0,370.5 805.0,374.7 813.0,378.6 821.0,382.3 829.0,384.5 837.0,387.7 845.0,391.4 853.0,392.9 861.0,393.2 869.0,394.5 877.0,396.8 885.0,397.8 893.0,397.8 901.0,395.7 909.0,394.5 917.0,395.0 925.0,395.0 933.0,393.1 941.0,390.7 949.0,388.9 957.0,388.3 965.0,387.7 973.0,387.5 981.0,388.2 989.0,388.5 997.0,389.2 1005.0,390.3 1013.0,393.5 1021.0,395.7 1029.0,398.7 1037.0,400.5 1045.0,402.0 1053.0,403.0 1061.0,405.1 1069.0,409.1 1077.0,414.9 1085.0,421.7 1093.0,429.1 1101.0,435.0 1109.0,439.8 1117.0,444.7 1125.0,446.7 1133.0,448.0 1141.0,449.2 1149.0,450.9 1157.0,451.6 1165.0,451.6 1173.0,454.5 1181.0,459.4 1189.0,464.5 1197.0,468.5 1205.0,473.7 1213.0,478.3 1221.0,482.4 1229.0,483.7 1237.0,484.8 1245.0,484.6 1253.0,485.0 1261.0,485.1 1269.0,484.9 1277.0,483.2 1285.0,484.8 1293.0,486.6 1301.0,487.7" fill="none" stroke="#3CB371" stroke-width="1" stroke-linejoin="round"/><polyline points="5.0,216.6 13.0,201.5 21.0,187.3 29.0,183.9 37.0,178.9 45.0,172.2 53.0,168.8 61.0,166.8 69.0,163.0 77.0,163.8 85.0,173.9 93.0,183.9 101.0,189.8 109.0,192.6 117.0,192.3 125.0,190.6 133.0,189.0 141.0,187.3 149.0,185.9 157.0,184.8 165.0,182.2 173.0,179.1 181.0,177.1 189.0,177.1 197.0,173.3 205.0,173.4 213.0,171.1 221.0,170.8 229.0,167.9 237.0,167.2 245.0,166.7 253.0,165.6 261.0,164.2 269.0,161.8 277.0,158.0 285.0,156.8 293.0,158.4 301.0,160.6 309.0,164.8 317.0,166.6 325.0,182.0 333.0,200.2 341.0,214.5 349.0,225.8 357.0,231.1 365.0,237.5 373.0,256.1 381.0,271.6 389.0,291.8 397.0,305.2 405.0,322.7 413.0,346.5 421.0,370.2 429.0,394.1 437.0,407.2 445.0,416.4 453.0,424.0 461.0,441.5 469.0,454.7 477.0,466.9 485.0,476.8 493.0,482.9 501.0,487.0 509.0,484.5 517.0,475.4 525.0,462.7 533.0,459.3 541.0,455.2 549.0,452.9 557.0,449.6 565.0,449.6 573.0,457.2 581.0,460.1 589.0,457.7 597.0,456.0 605.0,455.2 613.0,457.9 621.0,450.9 629.0,443.2 637.0,429.1 645.0,417.2 653.0,408.4 661.0,398.0 669.0,397.1 677.0,394.4 685.0,395.0 693.0,395.0 701.0,398.0 709.0,397.8 717.0,396.0 725.0,397.6 733.0,396.3 741.0,401.8 749.0,409.5 757.0,410.7 765.0,412.5 773.0,415.2 781.0,422.1 789.0,432.1 797.0,437.5 805.0,442.2 813.0,443.7 821.0,445.0 829.0,447.2 837.0,448.4 845.0,447.8 853.0,444.8 861.0,444.5 869.0,441.5 877.0,437.9 885.0,435.5 893.0,435.5 901.0,434.5 909.0,432.3 917.0,432.2 925.0,432.2 933.0,432.2 941.0,429.6 949.0,423.4 957.0,421.6 965.0,419.3 973.0,418.7 981.0,421.8 989.0,422.8 997.0,425.4 1005.0,430.1 1013.0,435.0 1021.0,437.3 1029.0,440.2 1037.0,443.5 1045.0,443.1 1053.0,443.4 1061.0,442.6 1069.0,456.2 1077.0,476.7 1085.0,496.2 1093.0,508.7 1101.0,513.3 1109.0,519.2 1117.0,525.9 1125.0,525.7 1133.0,524.9 1141.0,525.1 1149.0,524.8 1157.0,524.6 1165.0,524.7 1173.0,528.3 1181.0,536.0 1189.0,545.1 1197.0,548.9 1205.0,550.0 1213.0,548.3 1221.0,545.5 1229.0,547.1 1237.0,550.3 1245.0,549.8 1253.0,550.8 1261.0,550.9 1269.0,550.6 1277.0,549.2 1285.0,548.5 1293.0,545.7 1301.0,544.4" fill="none" stroke="#3CB371" stroke-width="1" stroke-linejoin="round"/>
<rect x="5" y="404" width="1637" height="2" fill="#FF0000"/><rect x="4" y="402" width="6" height="6" fill="#FF0000"/><rect x="6" y="404" width="2" height="2" fill="#fff"/><rect x="1636" y="402" width="6" height="6" fill="#FF0000"/><rect x="1638" y="404" width="2" height="2" fill="#fff"/><rect x="5" y="435" width="1637" height="2" fill="#FF0000"/><rect x="4" y="433" width="6" height="6" fill="#FF0000"/><rect x="6" y="435" width="2" height="2" fill="#fff"/><rect x="1636" y="433" width="6" height="6" fill="#FF0000"/><rect x="1638" y="435" width="2" height="2" fill="#fff"/><rect x="5" y="480" width="1637" height="2" fill="#FFA500"/><rect x="4" y="478" width="6" height="6" fill="#FFA500"/><rect x="6" y="480" width="2" height="2" fill="#fff"/><rect x="1636" y="478" width="6" height="6" fill="#FFA500"/><rect x="1638" y="480" width="2" height="2" fill="#fff"/><rect x="5" y="513" width="1637" height="2" fill="#0000FF"/><rect x="4" y="511" width="6" height="6" fill="#0000FF"/><rect x="6" y="513" width="2" height="2" fill="#fff"/><rect x="1636" y="511" width="6" height="6" fill="#0000FF"/><rect x="1638" y="513" width="2" height="2" fill="#fff"/><rect x="5" y="541" width="1637" height="2" fill="#0000FF"/><rect x="4" y="539" width="6" height="6" fill="#0000FF"/><rect x="6" y="541" width="2" height="2" fill="#fff"/><rect x="1636" y="539" width="6" height="6" fill="#0000FF"/><rect x="1638" y="541" width="2" height="2" fill="#fff"/>
</g>
<rect x="8" y="31" width="7" height="1" fill="#000"/><rect x="9" y="32" width="5" height="1" fill="#000"/><rect x="10" y="33" width="3" height="1" fill="#000"/><rect x="11" y="34" width="1" height="1" fill="#000"/><text transform="translate(21 36) scale(1.0 1)" font-size="9.3" fill="#000" text-anchor="start" font-weight="normal" letter-spacing="0" stroke="#000" stroke-width="0.15">AUDUSD-,H4</text><text transform="translate(85 36) scale(1.0 1)" font-size="9.3" fill="#000" text-anchor="start" font-weight="normal" letter-spacing="0" stroke="#000" stroke-width="0.15">0.68409</text><text transform="translate(121 36) scale(1.0 1)" font-size="9.3" fill="#000" text-anchor="start" font-weight="normal" letter-spacing="0" stroke="#000" stroke-width="0.15">0.68413</text><text transform="translate(157 36) scale(1.0 1)" font-size="9.3" fill="#000" text-anchor="start" font-weight="normal" letter-spacing="0" stroke="#000" stroke-width="0.15">0.68363</text><text transform="translate(193 36) scale(1.0 1)" font-size="9.3" fill="#000" text-anchor="start" font-weight="normal" letter-spacing="0" stroke="#000" stroke-width="0.15">0.68366</text>
</svg>
<svg x="5" y="554" width="1637" height="135" viewBox="5 554 1637 135" overflow="hidden">
<g shape-rendering="crispEdges">
<rect x="4" y="567" width="3" height="29" fill="#00FF00"/><rect x="12" y="569" width="3" height="27" fill="#00FF00"/><rect x="20" y="570" width="3" height="26" fill="#00FF00"/><rect x="28" y="570" width="3" height="26" fill="#00FF00"/><rect x="36" y="574" width="3" height="22" fill="#00FF00"/><rect x="44" y="576" width="3" height="20" fill="#00FF00"/><rect x="52" y="578" width="3" height="18" fill="#00FF00"/><rect x="60" y="580" width="3" height="16" fill="#00FF00"/><rect x="68" y="580" width="3" height="16" fill="#00FF00"/><rect x="76" y="578" width="3" height="18" fill="#00FF00"/><rect x="84" y="573" width="3" height="23" fill="#00FF00"/><rect x="92" y="567" width="3" height="29" fill="#00FF00"/><rect x="100" y="563" width="3" height="33" fill="#00FF00"/><rect x="108" y="562" width="3" height="34" fill="#00FF00"/><rect x="116" y="562" width="3" height="34" fill="#00FF00"/><rect x="124" y="562" width="3" height="34" fill="#00FF00"/><rect x="132" y="566" width="3" height="30" fill="#00FF00"/><rect x="140" y="569" width="3" height="27" fill="#00FF00"/><rect x="148" y="574" width="3" height="22" fill="#00FF00"/><rect x="156" y="578" width="3" height="18" fill="#00FF00"/><rect x="164" y="579" width="3" height="17" fill="#00FF00"/><rect x="172" y="579" width="3" height="17" fill="#00FF00"/><rect x="180" y="582" width="3" height="14" fill="#00FF00"/><rect x="188" y="585" width="3" height="11" fill="#00FF00"/><rect x="196" y="588" width="3" height="8" fill="#00FF00"/><rect x="204" y="592" width="3" height="4" fill="#00FF00"/><rect x="212" y="594" width="3" height="2" fill="#00FF00"/><rect x="220" y="596" width="3" height="3" fill="#00FF00"/><rect x="228" y="595" width="3" height="1" fill="#00FF00"/><rect x="236" y="592" width="3" height="4" fill="#00FF00"/><rect x="244" y="591" width="3" height="5" fill="#00FF00"/><rect x="252" y="592" width="3" height="4" fill="#00FF00"/><rect x="260" y="593" width="3" height="3" fill="#00FF00"/><rect x="268" y="594" width="3" height="2" fill="#00FF00"/><rect x="276" y="594" width="3" height="2" fill="#00FF00"/><rect x="284" y="594" width="3" height="2" fill="#00FF00"/><rect x="292" y="595" width="3" height="1" fill="#00FF00"/><rect x="300" y="596" width="3" height="3" fill="#00FF00"/><rect x="308" y="596" width="3" height="5" fill="#00FF00"/><rect x="316" y="596" width="3" height="8" fill="#00FF00"/><rect x="324" y="596" width="3" height="14" fill="#00FF00"/><rect x="332" y="596" width="3" height="21" fill="#00FF00"/><rect x="340" y="596" width="3" height="25" fill="#00FF00"/><rect x="348" y="596" width="3" height="29" fill="#00FF00"/><rect x="356" y="596" width="3" height="29" fill="#00FF00"/><rect x="364" y="596" width="3" height="30" fill="#00FF00"/><rect x="372" y="596" width="3" height="37" fill="#00FF00"/><rect x="380" y="596" width="3" height="40" fill="#00FF00"/><rect x="388" y="596" width="3" height="47" fill="#00FF00"/><rect x="396" y="596" width="3" height="51" fill="#00FF00"/><rect x="404" y="596" width="3" height="57" fill="#00FF00"/><rect x="412" y="596" width="3" height="63" fill="#00FF00"/><rect x="420" y="596" width="3" height="69" fill="#00FF00"/><rect x="428" y="596" width="3" height="76" fill="#00FF00"/><rect x="436" y="596" width="3" height="78" fill="#00FF00"/><rect x="444" y="596" width="3" height="77" fill="#00FF00"/><rect x="452" y="596" width="3" height="76" fill="#00FF00"/><rect x="460" y="596" width="3" height="82" fill="#00FF00"/><rect x="468" y="596" width="3" height="85" fill="#00FF00"/><rect x="476" y="596" width="3" height="87" fill="#00FF00"/><rect x="484" y="596" width="3" height="87" fill="#00FF00"/><rect x="492" y="596" width="3" height="83" fill="#00FF00"/><rect x="500" y="596" width="3" height="81" fill="#00FF00"/><rect x="508" y="596" width="3" height="73" fill="#00FF00"/><rect x="516" y="596" width="3" height="66" fill="#00FF00"/><rect x="524" y="596" width="3" height="54" fill="#00FF00"/><rect x="532" y="596" width="3" height="43" fill="#00FF00"/><rect x="540" y="596" width="3" height="34" fill="#00FF00"/><rect x="548" y="596" width="3" height="32" fill="#00FF00"/><rect x="556" y="596" width="3" height="31" fill="#00FF00"/><rect x="564" y="596" width="3" height="25" fill="#00FF00"/><rect x="572" y="596" width="3" height="15" fill="#00FF00"/><rect x="580" y="596" width="3" height="8" fill="#00FF00"/><rect x="588" y="596" width="3" height="5" fill="#00FF00"/><rect x="596" y="596" width="3" height="5" fill="#00FF00"/><rect x="604" y="596" width="3" height="6" fill="#00FF00"/><rect x="612" y="596" width="3" height="14" fill="#00FF00"/><rect x="620" y="596" width="3" height="16" fill="#00FF00"/><rect x="628" y="596" width="3" height="18" fill="#00FF00"/><rect x="636" y="596" width="3" height="18" fill="#00FF00"/><rect x="644" y="596" width="3" height="16" fill="#00FF00"/><rect x="652" y="596" width="3" height="13" fill="#00FF00"/><rect x="660" y="596" width="3" height="12" fill="#00FF00"/><rect x="668" y="596" width="3" height="13" fill="#00FF00"/><rect x="676" y="596" width="3" height="12" fill="#00FF00"/><rect x="684" y="596" width="3" height="10" fill="#00FF00"/><rect x="692" y="596" width="3" height="9" fill="#00FF00"/><rect x="700" y="596" width="3" height="11" fill="#00FF00"/><rect x="708" y="596" width="3" height="10" fill="#00FF00"/><rect x="716" y="596" width="3" height="10" fill="#00FF00"/><rect x="724" y="596" width="3" height="10" fill="#00FF00"/><rect x="732" y="596" width="3" height="13" fill="#00FF00"/><rect x="740" y="596" width="3" height="19" fill="#00FF00"/><rect x="748" y="596" width="3" height="23" fill="#00FF00"/><rect x="756" y="596" width="3" height="22" fill="#00FF00"/><rect x="764" y="596" width="3" height="21" fill="#00FF00"/><rect x="772" y="596" width="3" height="23" fill="#00FF00"/><rect x="780" y="596" width="3" height="25" fill="#00FF00"/><rect x="788" y="596" width="3" height="28" fill="#00FF00"/><rect x="796" y="596" width="3" height="29" fill="#00FF00"/><rect x="804" y="596" width="3" height="29" fill="#00FF00"/><rect x="812" y="596" width="3" height="28" fill="#00FF00"/><rect x="820" y="596" width="3" height="27" fill="#00FF00"/><rect x="828" y="596" width="3" height="25" fill="#00FF00"/><rect x="836" y="596" width="3" height="24" fill="#00FF00"/><rect x="844" y="596" width="3" height="23" fill="#00FF00"/><rect x="852" y="596" width="3" height="19" fill="#00FF00"/><rect x="860" y="596" width="3" height="15" fill="#00FF00"/><rect x="868" y="596" width="3" height="10" fill="#00FF00"/><rect x="876" y="596" width="3" height="10" fill="#00FF00"/><rect x="884" y="596" width="3" height="8" fill="#00FF00"/><rect x="892" y="596" width="3" height="8" fill="#00FF00"/><rect x="900" y="596" width="3" height="5" fill="#00FF00"/><rect x="908" y="596" width="3" height="6" fill="#00FF00"/><rect x="916" y="596" width="3" height="6" fill="#00FF00"/><rect x="924" y="596" width="3" height="5" fill="#00FF00"/><rect x="932" y="596" width="3" height="3" fill="#00FF00"/><rect x="940" y="596" width="3" height="1" fill="#00FF00"/><rect x="948" y="596" width="3" height="3" fill="#00FF00"/><rect x="956" y="596" width="3" height="3" fill="#00FF00"/><rect x="964" y="596" width="3" height="6" fill="#00FF00"/><rect x="972" y="596" width="3" height="8" fill="#00FF00"/><rect x="980" y="596" width="3" height="11" fill="#00FF00"/><rect x="988" y="596" width="3" height="12" fill="#00FF00"/><rect x="996" y="596" width="3" height="13" fill="#00FF00"/><rect x="1004" y="596" width="3" height="16" fill="#00FF00"/><rect x="1012" y="596" width="3" height="17" fill="#00FF00"/><rect x="1020" y="596" width="3" height="17" fill="#00FF00"/><rect x="1028" y="596" width="3" height="17" fill="#00FF00"/><rect x="1036" y="596" width="3" height="17" fill="#00FF00"/><rect x="1044" y="596" width="3" height="14" fill="#00FF00"/><rect x="1052" y="596" width="3" height="14" fill="#00FF00"/><rect x="1060" y="596" width="3" height="12" fill="#00FF00"/><rect x="1068" y="596" width="3" height="18" fill="#00FF00"/><rect x="1076" y="596" width="3" height="25" fill="#00FF00"/><rect x="1084" y="596" width="3" height="32" fill="#00FF00"/><rect x="1092" y="596" width="3" height="37" fill="#00FF00"/><rect x="1100" y="596" width="3" height="37" fill="#00FF00"/><rect x="1108" y="596" width="3" height="37" fill="#00FF00"/><rect x="1116" y="596" width="3" height="38" fill="#00FF00"/><rect x="1124" y="596" width="3" height="33" fill="#00FF00"/><rect x="1132" y="596" width="3" height="26" fill="#00FF00"/><rect x="1140" y="596" width="3" height="22" fill="#00FF00"/><rect x="1148" y="596" width="3" height="19" fill="#00FF00"/><rect x="1156" y="596" width="3" height="16" fill="#00FF00"/><rect x="1164" y="596" width="3" height="13" fill="#00FF00"/><rect x="1172" y="596" width="3" height="16" fill="#00FF00"/><rect x="1180" y="596" width="3" height="21" fill="#00FF00"/><rect x="1188" y="596" width="3" height="25" fill="#00FF00"/><rect x="1196" y="596" width="3" height="27" fill="#00FF00"/><rect x="1204" y="596" width="3" height="28" fill="#00FF00"/><rect x="1212" y="596" width="3" height="27" fill="#00FF00"/><rect x="1220" y="596" width="3" height="26" fill="#00FF00"/><rect x="1228" y="596" width="3" height="25" fill="#00FF00"/><rect x="1236" y="596" width="3" height="28" fill="#00FF00"/><rect x="1244" y="596" width="3" height="29" fill="#00FF00"/><rect x="1252" y="596" width="3" height="29" fill="#00FF00"/><rect x="1260" y="596" width="3" height="25" fill="#00FF00"/><rect x="1268" y="596" width="3" height="21" fill="#00FF00"/><rect x="1276" y="596" width="3" height="18" fill="#00FF00"/><rect x="1284" y="596" width="3" height="15" fill="#00FF00"/><rect x="1292" y="596" width="3" height="10" fill="#00FF00"/><rect x="1300" y="596" width="3" height="8" fill="#00FF00"/>
<polyline points="5.0,562.0 20.0,564.1 37.0,568.1 53.0,571.1 69.0,574.6 85.0,574.8 100.6,574.6 110.7,572.6 120.7,570.1 132.8,567.6 148.9,566.6 160.0,568.2 179.5,571.6 199.0,578.4 218.6,586.2 238.0,589.7 257.6,592.0 277.0,593.0 300.6,593.0 316.0,595.0 335.7,600.8 355.3,608.7 374.8,617.4 394.3,628.2 413.9,638.9 433.4,650.6 452.9,661.4 472.4,670.2 480.0,674.1 499.5,676.4 519.0,675.0 538.6,665.3 558.0,650.6 577.6,634.0 597.2,618.4 616.7,611.2 636.2,606.7 655.7,607.7 675.3,608.7 694.8,607.7 714.3,605.7 733.9,605.7 753.4,609.6 772.9,611.6 792.4,616.5 810.0,619.8 819.5,620.4 839.0,621.0 856.6,621.0 878.0,615.5 897.6,608.7 917.2,604.2 936.7,600.8 956.2,598.9 975.7,598.9 995.3,600.8 1014.8,605.7 1034.3,608.1 1053.9,609.2 1073.4,611.2 1092.9,615.5 1112.4,621.3 1125.9,624.9 1139.5,625.6 1149.3,625.6 1159.0,623.3 1178.6,618.4 1198.0,615.5 1207.9,615.9 1217.6,617.0 1237.2,620.4 1256.7,621.7 1268.4,621.3 1276.2,620.4 1295.7,616.5 1301.0,615.5" fill="none" stroke="#FF0000" stroke-width="2" stroke-linejoin="round"/>
</g>
<text transform="translate(9 566) scale(1.0 1)" font-size="9.3" fill="#000" text-anchor="start" font-weight="normal" letter-spacing="0" stroke="#000" stroke-width="0.15">MACD(12,26,9) -0.000556 -0.001560</text>
</svg>
<svg x="5" y="692" width="1637" height="120" viewBox="5 692 1637 120" overflow="hidden">
<g shape-rendering="crispEdges">
<polyline points="5.0,737.7 13.0,737.7 21.0,736.1 29.0,732.8 37.0,749.8 45.0,745.9 53.0,746.9 61.0,749.8 69.0,744.9 77.0,737.1 85.0,726.4 93.0,723.8 101.0,723.8 109.0,727.3 117.0,729.3 125.0,736.1 133.0,748.8 141.0,747.8 149.0,752.3 157.0,755.1 165.0,746.5 173.0,744.9 181.0,751.2 189.0,753.7 197.0,756.6 205.0,760.0 213.0,757.0 221.0,762.1 229.0,747.8 237.0,743.0 245.0,746.9 253.0,752.3 261.0,753.7 269.0,752.3 277.0,747.8 285.0,754.7 293.0,756.6 301.0,758.2 309.0,760.9 317.0,759.0 325.0,771.3 333.0,774.6 341.0,774.2 349.0,773.6 357.0,764.4 365.0,766.0 373.0,776.5 381.0,776.5 389.0,780.5 397.0,779.7 405.0,782.0 413.0,785.9 421.0,787.9 429.0,789.8 437.0,783.6 445.0,778.1 453.0,778.1 461.0,785.5 469.0,784.9 477.0,785.5 485.0,779.1 493.0,773.2 501.0,772.6 509.0,763.5 517.0,762.9 525.0,749.2 533.0,747.8 541.0,747.8 549.0,756.6 557.0,760.0 565.0,751.7 573.0,742.6 581.0,745.3 589.0,749.2 597.0,752.7 605.0,754.7 613.0,763.5 621.0,762.1 629.0,758.2 637.0,757.6 645.0,753.1 653.0,751.7 661.0,752.7 669.0,757.6 677.0,755.7 685.0,753.7 693.0,752.7 701.0,758.6 709.0,753.7 717.0,754.3 725.0,756.6 733.0,762.9 741.0,767.4 749.0,768.0 757.0,758.2 765.0,758.2 773.0,762.9 781.0,765.4 789.0,768.0 797.0,763.5 805.0,763.5 813.0,760.5 821.0,760.0 829.0,760.0 837.0,760.5 845.0,760.9 853.0,747.8 861.0,748.8 869.0,747.8 877.0,755.1 885.0,749.8 893.0,752.7 901.0,749.8 909.0,755.1 917.0,754.3 925.0,752.3 933.0,747.8 941.0,747.8 949.0,756.2 957.0,758.6 965.0,759.8 973.0,759.6 981.0,763.5 989.0,760.9 997.0,762.9 1005.0,765.4 1013.0,765.4 1021.0,759.6 1029.0,762.9 1037.0,762.9 1045.0,752.7 1053.0,752.7 1061.0,756.2 1069.0,773.2 1077.0,779.1 1085.0,780.5 1093.0,778.1 1101.0,768.7 1109.0,768.7 1117.0,770.7 1125.0,752.7 1133.0,749.8 1141.0,752.7 1149.0,752.7 1157.0,750.4 1165.0,749.8 1173.0,764.0 1181.0,768.7 1189.0,770.7 1197.0,764.8 1205.0,764.8 1213.0,760.9 1221.0,760.9 1229.0,760.9 1237.0,768.0 1245.0,765.0 1253.0,765.0 1261.0,754.9 1269.0,754.9 1277.0,748.7 1285.0,752.0 1293.0,748.7 1301.0,748.9" fill="none" stroke="#1E90FF" stroke-width="2" stroke-linejoin="round"/>
<line x1="6" y1="716.5" x2="1641" y2="716.5" stroke="#000" stroke-width="1" stroke-dasharray="3 3"/><line x1="6" y1="752.5" x2="1641" y2="752.5" stroke="#000" stroke-width="1" stroke-dasharray="3 3"/><line x1="6" y1="794.5" x2="1641" y2="794.5" stroke="#000" stroke-width="1" stroke-dasharray="3 3"/>
</g>
<text transform="translate(9 704) scale(1.0 1)" font-size="9.3" fill="#000" text-anchor="start" font-weight="normal" letter-spacing="0" stroke="#000" stroke-width="0.15">RSI(14) 52.6407</text>
</svg>
<g shape-rendering="crispEdges">
<rect x="4" y="24" width="1639" height="1" fill="#000"/><rect x="4" y="551" width="1639" height="1" fill="#000"/><rect x="4" y="24" width="1" height="528" fill="#000"/><rect x="1642" y="24" width="1" height="528" fill="#000"/>
<rect x="1309" y="25" width="10" height="1" fill="#000"/><rect x="1310" y="26" width="8" height="1" fill="#000"/><rect x="1311" y="27" width="6" height="1" fill="#000"/><rect x="1312" y="28" width="4" height="1" fill="#000"/><rect x="1313" y="29" width="2" height="1" fill="#000"/>
<rect x="4" y="553" width="1639" height="1" fill="#000"/><rect x="4" y="689" width="1639" height="1" fill="#000"/><rect x="4" y="553" width="1" height="137" fill="#000"/><rect x="1642" y="553" width="1" height="137" fill="#000"/>
<rect x="4" y="691" width="1639" height="1" fill="#000"/><rect x="4" y="812" width="1639" height="1" fill="#000"/><rect x="4" y="691" width="1" height="122" fill="#000"/><rect x="1642" y="691" width="1" height="122" fill="#000"/>

</g>
<g shape-rendering="crispEdges">
<rect x="4" y="402" width="6" height="6" fill="#FF0000"/><rect x="6" y="404" width="2" height="2" fill="#fff"/>
<rect x="4" y="433" width="6" height="6" fill="#FF0000"/><rect x="6" y="435" width="2" height="2" fill="#fff"/>
<rect x="4" y="478" width="6" height="6" fill="#FFA500"/><rect x="6" y="480" width="2" height="2" fill="#fff"/>
<rect x="4" y="511" width="6" height="6" fill="#0000FF"/><rect x="6" y="513" width="2" height="2" fill="#fff"/>
<rect x="4" y="539" width="6" height="6" fill="#0000FF"/><rect x="6" y="541" width="2" height="2" fill="#fff"/>
<rect x="1643" y="53" width="2" height="1" fill="#000"/><text transform="translate(1648 56.5) scale(1.0 1)" font-size="9.3" fill="#000" text-anchor="start" font-weight="normal" letter-spacing="0" stroke="#000" stroke-width="0.15">0.72790</text><rect x="1643" y="86" width="2" height="1" fill="#000"/><text transform="translate(1648 89.5) scale(1.0 1)" font-size="9.3" fill="#000" text-anchor="start" font-weight="normal" letter-spacing="0" stroke="#000" stroke-width="0.15">0.72430</text><rect x="1643" y="119" width="2" height="1" fill="#000"/><text transform="translate(1648 122.5) scale(1.0 1)" font-size="9.3" fill="#000" text-anchor="start" font-weight="normal" letter-spacing="0" stroke="#000" stroke-width="0.15">0.72080</text><rect x="1643" y="152" width="2" height="1" fill="#000"/><text transform="translate(1648 155.5) scale(1.0 1)" font-size="9.3" fill="#000" text-anchor="start" font-weight="normal" letter-spacing="0" stroke="#000" stroke-width="0.15">0.71730</text><rect x="1643" y="185" width="2" height="1" fill="#000"/><text transform="translate(1648 188.5) scale(1.0 1)" font-size="9.3" fill="#000" text-anchor="start" font-weight="normal" letter-spacing="0" stroke="#000" stroke-width="0.15">0.71380</text><rect x="1643" y="218" width="2" height="1" fill="#000"/><text transform="translate(1648 221.5) scale(1.0 1)" font-size="9.3" fill="#000" text-anchor="start" font-weight="normal" letter-spacing="0" stroke="#000" stroke-width="0.15">0.71020</text><rect x="1643" y="251" width="2" height="1" fill="#000"/><text transform="translate(1648 254.5) scale(1.0 1)" font-size="9.3" fill="#000" text-anchor="start" font-weight="normal" letter-spacing="0" stroke="#000" stroke-width="0.15">0.70670</text><rect x="1643" y="284" width="2" height="1" fill="#000"/><text transform="translate(1648 287.5) scale(1.0 1)" font-size="9.3" fill="#000" text-anchor="start" font-weight="normal" letter-spacing="0" stroke="#000" stroke-width="0.15">0.70320</text><rect x="1643" y="317" width="2" height="1" fill="#000"/><text transform="translate(1648 320.5) scale(1.0 1)" font-size="9.3" fill="#000" text-anchor="start" font-weight="normal" letter-spacing="0" stroke="#000" stroke-width="0.15">0.69960</text><rect x="1643" y="350" width="2" height="1" fill="#000"/><text transform="translate(1648 353.5) scale(1.0 1)" font-size="9.3" fill="#000" text-anchor="start" font-weight="normal" letter-spacing="0" stroke="#000" stroke-width="0.15">0.69610</text><rect x="1643" y="383" width="2" height="1" fill="#000"/><text transform="translate(1648 386.5) scale(1.0 1)" font-size="9.3" fill="#000" text-anchor="start" font-weight="normal" letter-spacing="0" stroke="#000" stroke-width="0.15">0.69260</text><rect x="1643" y="416" width="2" height="1" fill="#000"/><text transform="translate(1648 419.5) scale(1.0 1)" font-size="9.3" fill="#000" text-anchor="start" font-weight="normal" letter-spacing="0" stroke="#000" stroke-width="0.15">0.68910</text><rect x="1643" y="449" width="2" height="1" fill="#000"/><text transform="translate(1648 452.5) scale(1.0 1)" font-size="9.3" fill="#000" text-anchor="start" font-weight="normal" letter-spacing="0" stroke="#000" stroke-width="0.15">0.68550</text><rect x="1643" y="482" width="2" height="1" fill="#000"/><rect x="1643" y="515" width="2" height="1" fill="#000"/><rect x="1643" y="548" width="2" height="1" fill="#000"/><text transform="translate(1648 551.5) scale(1.0 1)" font-size="9.3" fill="#000" text-anchor="start" font-weight="normal" letter-spacing="0" stroke="#000" stroke-width="0.15">0.67500</text><rect x="1644" y="399" width="41" height="11" fill="#FF0000"/><text transform="translate(1648 407.5) scale(1.0 1)" font-size="9.3" fill="#fff" text-anchor="start" font-weight="normal" letter-spacing="0" stroke="#fff" stroke-width="0.15">0.69027</text><rect x="1644" y="430" width="41" height="11" fill="#FF0000"/><text transform="translate(1648 438.5) scale(1.0 1)" font-size="9.3" fill="#fff" text-anchor="start" font-weight="normal" letter-spacing="0" stroke="#fff" stroke-width="0.15">0.68697</text><rect x="1644" y="462" width="41" height="11" fill="#000000"/><text transform="translate(1648 470.5) scale(1.0 1)" font-size="9.3" fill="#fff" text-anchor="start" font-weight="normal" letter-spacing="0" stroke="#fff" stroke-width="0.15">0.68366</text><rect x="1644" y="475" width="41" height="11" fill="#FFA500"/><text transform="translate(1648 483.5) scale(1.0 1)" font-size="9.3" fill="#fff" text-anchor="start" font-weight="normal" letter-spacing="0" stroke="#fff" stroke-width="0.15">0.68217</text><rect x="1644" y="508" width="41" height="11" fill="#0000FF"/><text transform="translate(1648 516.5) scale(1.0 1)" font-size="9.3" fill="#fff" text-anchor="start" font-weight="normal" letter-spacing="0" stroke="#fff" stroke-width="0.15">0.67860</text><rect x="1644" y="536" width="41" height="11" fill="#0000FF"/><text transform="translate(1648 544.5) scale(1.0 1)" font-size="9.3" fill="#fff" text-anchor="start" font-weight="normal" letter-spacing="0" stroke="#fff" stroke-width="0.15">0.67557</text>
<rect x="1643" y="555" width="2" height="1" fill="#000"/><text transform="translate(1646 564) scale(1.0 1)" font-size="9.3" fill="#000" text-anchor="start" font-weight="normal" letter-spacing="0" stroke="#000" stroke-width="0.15">0.0034</text><rect x="1643" y="596" width="2" height="1" fill="#000"/><text transform="translate(1646 600.5) scale(1.0 1)" font-size="9.3" fill="#000" text-anchor="start" font-weight="normal" letter-spacing="0" stroke="#000" stroke-width="0.15">0.00</text><rect x="1643" y="688" width="2" height="1" fill="#000"/><text transform="translate(1646 686.5) scale(1.0 1)" font-size="9.3" fill="#000" text-anchor="start" font-weight="normal" letter-spacing="0" stroke="#000" stroke-width="0.15">-0.007643</text>
<text transform="translate(1646 702) scale(1.0 1)" font-size="9.3" fill="#000" text-anchor="start" font-weight="normal" letter-spacing="0" stroke="#000" stroke-width="0.15">100</text><text transform="translate(1645 720) scale(1.0 1)" font-size="9.3" fill="#000" text-anchor="start" font-weight="normal" letter-spacing="0" stroke="#000" stroke-width="0.15">80</text><text transform="translate(1645 756) scale(1.0 1)" font-size="9.3" fill="#000" text-anchor="start" font-weight="normal" letter-spacing="0" stroke="#000" stroke-width="0.15">50</text><text transform="translate(1645 798) scale(1.0 1)" font-size="9.3" fill="#000" text-anchor="start" font-weight="normal" letter-spacing="0" stroke="#000" stroke-width="0.15">15</text><text transform="translate(1645 809) scale(1.0 1)" font-size="9.3" fill="#000" text-anchor="start" font-weight="normal" letter-spacing="0" stroke="#000" stroke-width="0.15">0</text><rect x="1643" y="811" width="1" height="1" fill="#000"/>
<rect x="5" y="813" width="1" height="3" fill="#000"/><text transform="translate(4 825) scale(1.0 1)" font-size="9.3" fill="#000" text-anchor="start" font-weight="normal" letter-spacing="0" stroke="#000" stroke-width="0.15">31 May 2022</text><rect x="69" y="813" width="1" height="3" fill="#000"/><text transform="translate(68 825) scale(1.0 1)" font-size="9.3" fill="#000" text-anchor="start" font-weight="normal" letter-spacing="0" stroke="#000" stroke-width="0.15">2 Jun 04:00</text><rect x="133" y="813" width="1" height="3" fill="#000"/><text transform="translate(132 825) scale(1.0 1)" font-size="9.3" fill="#000" text-anchor="start" font-weight="normal" letter-spacing="0" stroke="#000" stroke-width="0.15">3 Jun 12:00</text><rect x="197" y="813" width="1" height="3" fill="#000"/><text transform="translate(196 825) scale(1.0 1)" font-size="9.3" fill="#000" text-anchor="start" font-weight="normal" letter-spacing="0" stroke="#000" stroke-width="0.15">6 Jun 20:00</text><rect x="261" y="813" width="1" height="3" fill="#000"/><text transform="translate(260 825) scale(1.0 1)" font-size="9.3" fill="#000" text-anchor="start" font-weight="normal" letter-spacing="0" stroke="#000" stroke-width="0.15">8 Jun 04:00</text><rect x="325" y="813" width="1" height="3" fill="#000"/><text transform="translate(324 825) scale(1.0 1)" font-size="9.3" fill="#000" text-anchor="start" font-weight="normal" letter-spacing="0" stroke="#000" stroke-width="0.15">9 Jun 12:00</text><rect x="389" y="813" width="1" height="3" fill="#000"/><text transform="translate(388 825) scale(1.0 1)" font-size="9.3" fill="#000" text-anchor="start" font-weight="normal" letter-spacing="0" stroke="#000" stroke-width="0.15">12 Jun 23:00</text><rect x="453" y="813" width="1" height="3" fill="#000"/><text transform="translate(452 825) scale(1.0 1)" font-size="9.3" fill="#000" text-anchor="start" font-weight="normal" letter-spacing="0" stroke="#000" stroke-width="0.15">14 Jun 04:00</text><rect x="517" y="813" width="1" height="3" fill="#000"/><text transform="translate(516 825) scale(1.0 1)" font-size="9.3" fill="#000" text-anchor="start" font-weight="normal" letter-spacing="0" stroke="#000" stroke-width="0.15">15 Jun 12:00</text><rect x="581" y="813" width="1" height="3" fill="#000"/><text transform="translate(580 825) scale(1.0 1)" font-size="9.3" fill="#000" text-anchor="start" font-weight="normal" letter-spacing="0" stroke="#000" stroke-width="0.15">16 Jun 20:00</text><rect x="645" y="813" width="1" height="3" fill="#000"/><text transform="translate(644 825) scale(1.0 1)" font-size="9.3" fill="#000" text-anchor="start" font-weight="normal" letter-spacing="0" stroke="#000" stroke-width="0.15">20 Jun 04:00</text><rect x="709" y="813" width="1" height="3" fill="#000"/><text transform="translate(708 825) scale(1.0 1)" font-size="9.3" fill="#000" text-anchor="start" font-weight="normal" letter-spacing="0" stroke="#000" stroke-width="0.15">21 Jun 12:00</text><rect x="773" y="813" width="1" height="3" fill="#000"/><text transform="translate(772 825) scale(1.0 1)" font-size="9.3" fill="#000" text-anchor="start" font-weight="normal" letter-spacing="0" stroke="#000" stroke-width="0.15">22 Jun 20:00</text><rect x="837" y="813" width="1" height="3" fill="#000"/><text transform="translate(836 825) scale(1.0 1)" font-size="9.3" fill="#000" text-anchor="start" font-weight="normal" letter-spacing="0" stroke="#000" stroke-width="0.15">24 Jun 04:00</text><rect x="901" y="813" width="1" height="3" fill="#000"/><text transform="translate(900 825) scale(1.0 1)" font-size="9.3" fill="#000" text-anchor="start" font-weight="normal" letter-spacing="0" stroke="#000" stroke-width="0.15">27 Jun 12:00</text><rect x="965" y="813" width="1" height="3" fill="#000"/><text transform="translate(964 825) scale(1.0 1)" font-size="9.3" fill="#000" text-anchor="start" font-weight="normal" letter-spacing="0" stroke="#000" stroke-width="0.15">28 Jun 20:00</text><rect x="1029" y="813" width="1" height="3" fill="#000"/><text transform="translate(1028 825) scale(1.0 1)" font-size="9.3" fill="#000" text-anchor="start" font-weight="normal" letter-spacing="0" stroke="#000" stroke-width="0.15">30 Jun 04:00</text><rect x="1093" y="813" width="1" height="3" fill="#000"/><text transform="translate(1092 825) scale(1.0 1)" font-size="9.3" fill="#000" text-anchor="start" font-weight="normal" letter-spacing="0" stroke="#000" stroke-width="0.15">1 Jul 12:00</text><rect x="1157" y="813" width="1" height="3" fill="#000"/><text transform="translate(1156 825) scale(1.0 1)" font-size="9.3" fill="#000" text-anchor="start" font-weight="normal" letter-spacing="0" stroke="#000" stroke-width="0.15">4 Jul 20:00</text><rect x="1221" y="813" width="1" height="3" fill="#000"/><text transform="translate(1220 825) scale(1.0 1)" font-size="9.3" fill="#000" text-anchor="start" font-weight="normal" letter-spacing="0" stroke="#000" stroke-width="0.15">6 Jul 04:00</text><rect x="1285" y="813" width="1" height="3" fill="#000"/><text transform="translate(1284 825) scale(1.0 1)" font-size="9.3" fill="#000" text-anchor="start" font-weight="normal" letter-spacing="0" stroke="#000" stroke-width="0.15">7 Jul 12:00</text>
</g>
</svg>
</body></html>
